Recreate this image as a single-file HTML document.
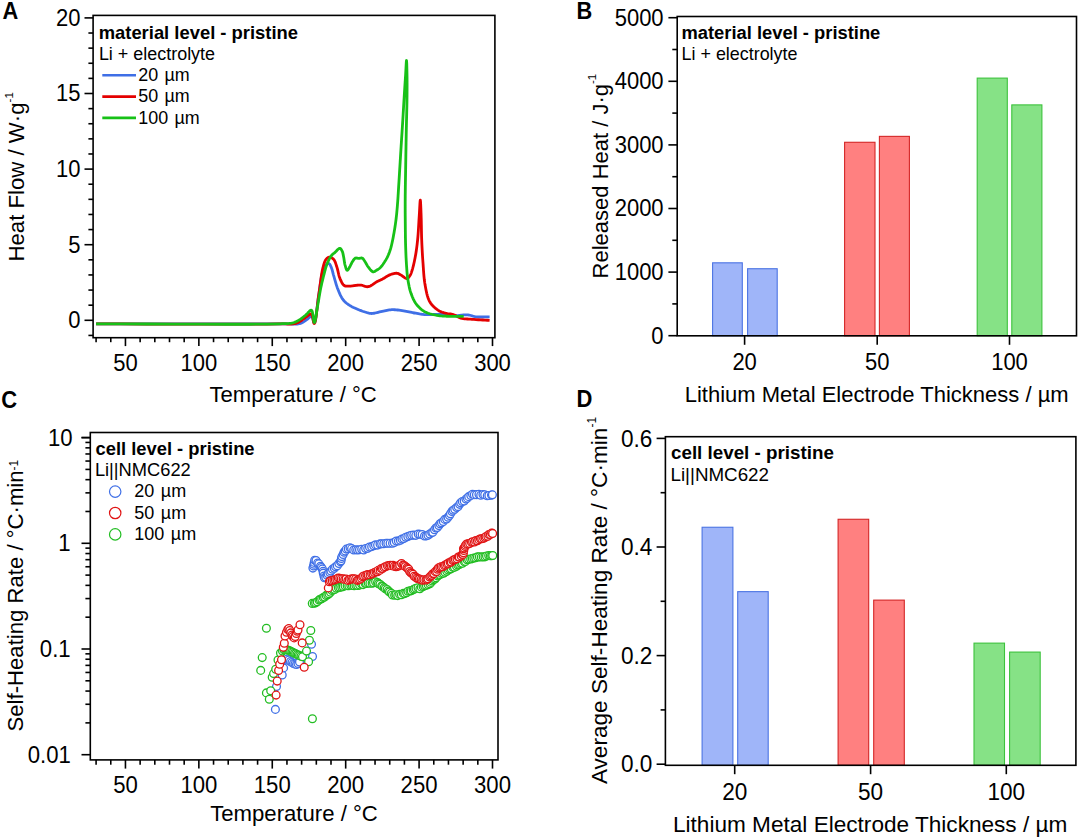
<!DOCTYPE html>
<html><head><meta charset="utf-8"><title>Figure</title>
<style>
html,body{margin:0;padding:0;background:#fff;}
svg{display:block;}
text{font-family:"Liberation Sans",sans-serif;fill:#000;}
</style></head>
<body>
<svg width="1080" height="839" viewBox="0 0 1080 839">
<rect width="1080" height="839" fill="#fff"/>
<path d="M96.10,323.95 L122.21,323.94 L150.97,323.92 L180.80,323.89 L210.10,323.86 L237.27,323.84 L260.72,323.85 L278.86,323.88 L290.10,323.95 L291.26,323.97 L292.21,324.01 L292.99,324.06 L293.67,324.10 L294.27,324.13 L294.84,324.15 L295.44,324.14 L296.10,324.10 L296.74,324.05 L297.36,323.99 L297.97,323.92 L298.58,323.84 L299.18,323.73 L299.78,323.59 L300.39,323.42 L301.00,323.20 L301.73,322.88 L302.46,322.49 L303.20,322.05 L303.93,321.57 L304.67,321.07 L305.39,320.56 L306.10,320.07 L306.80,319.60 L307.44,319.13 L308.09,318.57 L308.74,317.97 L309.37,317.40 L309.99,316.89 L310.57,316.51 L311.11,316.29 L311.60,316.30 L312.07,316.70 L312.48,317.52 L312.83,318.59 L313.14,319.79 L313.43,320.96 L313.71,321.97 L314.00,322.66 L314.30,322.90 L314.90,322.05 L315.46,319.85 L316.00,316.62 L316.52,312.68 L317.03,308.33 L317.54,303.89 L318.06,299.67 L318.60,296.00 L319.11,292.71 L319.59,289.29 L320.07,285.82 L320.55,282.39 L321.06,279.10 L321.61,276.04 L322.22,273.31 L322.90,271.00 L323.30,269.91 L323.72,268.88 L324.15,267.93 L324.60,267.05 L325.06,266.26 L325.53,265.57 L326.01,264.98 L326.50,264.50 L326.80,264.26 L327.12,264.04 L327.44,263.85 L327.77,263.70 L328.09,263.59 L328.41,263.53 L328.71,263.53 L329.00,263.60 L329.37,263.83 L329.72,264.21 L330.05,264.71 L330.36,265.30 L330.66,265.96 L330.95,266.65 L331.23,267.34 L331.50,268.00 L331.81,268.81 L332.08,269.64 L332.33,270.52 L332.56,271.42 L332.80,272.36 L333.04,273.34 L333.30,274.35 L333.60,275.40 L334.05,276.95 L334.52,278.62 L335.02,280.39 L335.54,282.22 L336.09,284.06 L336.67,285.88 L337.27,287.64 L337.90,289.30 L338.49,290.76 L339.09,292.21 L339.71,293.65 L340.36,295.05 L341.03,296.41 L341.74,297.69 L342.50,298.90 L343.30,300.00 L344.01,300.84 L344.74,301.61 L345.50,302.32 L346.29,302.99 L347.10,303.62 L347.94,304.22 L348.81,304.81 L349.70,305.40 L350.72,306.03 L351.81,306.63 L352.95,307.21 L354.10,307.76 L355.27,308.28 L356.42,308.78 L357.54,309.25 L358.60,309.70 L359.44,310.05 L360.26,310.37 L361.06,310.68 L361.85,310.97 L362.63,311.25 L363.41,311.51 L364.20,311.76 L365.00,312.00 L365.79,312.24 L366.58,312.50 L367.35,312.74 L368.14,312.97 L368.94,313.18 L369.76,313.34 L370.61,313.45 L371.50,313.50 L372.71,313.44 L374.00,313.26 L375.34,312.99 L376.72,312.66 L378.11,312.29 L379.50,311.92 L380.87,311.58 L382.20,311.30 L383.42,311.06 L384.61,310.81 L385.79,310.56 L386.97,310.32 L388.15,310.10 L389.34,309.92 L390.55,309.78 L391.80,309.70 L393.22,309.69 L394.68,309.74 L396.16,309.84 L397.66,309.99 L399.16,310.17 L400.66,310.37 L402.15,310.58 L403.60,310.80 L404.98,311.03 L406.34,311.29 L407.69,311.57 L409.04,311.87 L410.38,312.17 L411.71,312.47 L413.05,312.75 L414.40,313.00 L415.72,313.24 L417.01,313.48 L418.30,313.71 L419.59,313.94 L420.90,314.14 L422.24,314.33 L423.64,314.48 L425.10,314.60 L427.05,314.67 L429.12,314.66 L431.27,314.60 L433.48,314.50 L435.70,314.40 L437.92,314.31 L440.10,314.27 L442.20,314.30 L444.15,314.41 L446.13,314.58 L448.12,314.80 L450.08,315.03 L451.98,315.25 L453.79,315.43 L455.47,315.56 L457.00,315.60 L457.88,315.57 L458.70,315.52 L459.47,315.43 L460.20,315.34 L460.90,315.24 L461.60,315.14 L462.29,315.06 L463.00,315.00 L463.65,314.96 L464.28,314.91 L464.89,314.87 L465.50,314.84 L466.12,314.82 L466.76,314.82 L467.41,314.84 L468.10,314.90 L469.02,315.04 L469.97,315.25 L470.95,315.52 L471.95,315.81 L472.99,316.11 L474.06,316.38 L475.16,316.62 L476.30,316.80 L477.80,316.93 L479.39,317.00 L481.04,317.02 L482.74,317.01 L484.47,316.97 L486.20,316.93 L487.91,316.90 L489.60,316.90" fill="none" stroke="#3f6fe6" stroke-width="2.8" stroke-linejoin="round" stroke-linecap="butt"/>
<path d="M96.10,323.95 L120.45,323.97 L146.76,324.03 L173.85,324.10 L200.54,324.16 L225.68,324.20 L248.08,324.19 L266.58,324.11 L280.00,323.95 L282.88,323.93 L285.37,323.97 L287.54,324.03 L289.46,324.08 L291.20,324.07 L292.84,323.96 L294.45,323.72 L296.10,323.30 L297.49,322.79 L298.81,322.13 L300.08,321.38 L301.29,320.56 L302.46,319.71 L303.58,318.88 L304.66,318.10 L305.70,317.40 L306.47,316.87 L307.22,316.26 L307.95,315.63 L308.66,315.03 L309.33,314.52 L309.96,314.14 L310.56,313.95 L311.10,314.00 L311.70,314.59 L312.19,315.77 L312.61,317.33 L312.98,319.06 L313.31,320.76 L313.63,322.22 L313.95,323.24 L314.30,323.60 L314.90,322.75 L315.47,320.50 L316.01,317.19 L316.53,313.13 L317.04,308.64 L317.56,304.04 L318.07,299.65 L318.60,295.80 L319.13,292.20 L319.64,288.45 L320.14,284.62 L320.65,280.83 L321.17,277.17 L321.71,273.73 L322.28,270.61 L322.90,267.90 L323.26,266.53 L323.61,265.22 L323.97,264.00 L324.33,262.86 L324.72,261.82 L325.14,260.87 L325.59,260.03 L326.10,259.30 L326.45,258.88 L326.82,258.50 L327.21,258.15 L327.61,257.85 L328.02,257.59 L328.44,257.40 L328.86,257.26 L329.30,257.20 L329.81,257.22 L330.36,257.32 L330.93,257.50 L331.50,257.76 L332.07,258.07 L332.62,258.44 L333.13,258.85 L333.60,259.30 L334.13,259.97 L334.60,260.75 L335.02,261.63 L335.40,262.59 L335.76,263.61 L336.10,264.66 L336.44,265.73 L336.80,266.80 L337.22,268.16 L337.60,269.63 L337.96,271.17 L338.31,272.74 L338.67,274.31 L339.06,275.83 L339.50,277.28 L340.00,278.60 L340.45,279.64 L340.91,280.68 L341.39,281.71 L341.89,282.69 L342.43,283.60 L343.01,284.40 L343.63,285.08 L344.30,285.60 L344.89,285.89 L345.53,286.08 L346.20,286.18 L346.90,286.21 L347.60,286.20 L348.31,286.16 L349.02,286.12 L349.70,286.10 L350.36,286.08 L351.02,286.02 L351.68,285.95 L352.34,285.86 L353.00,285.76 L353.66,285.66 L354.33,285.57 L355.00,285.50 L355.70,285.43 L356.39,285.35 L357.09,285.26 L357.79,285.18 L358.50,285.12 L359.22,285.08 L359.95,285.07 L360.70,285.10 L361.59,285.23 L362.51,285.47 L363.44,285.78 L364.39,286.11 L365.34,286.41 L366.30,286.64 L367.25,286.75 L368.20,286.70 L369.28,286.42 L370.37,285.95 L371.47,285.33 L372.56,284.62 L373.65,283.86 L374.72,283.10 L375.78,282.40 L376.80,281.80 L377.66,281.36 L378.50,280.94 L379.33,280.54 L380.15,280.16 L380.96,279.78 L381.75,279.40 L382.53,279.01 L383.30,278.60 L384.00,278.20 L384.68,277.78 L385.35,277.35 L386.01,276.92 L386.66,276.50 L387.31,276.10 L387.95,275.73 L388.60,275.40 L389.16,275.14 L389.71,274.90 L390.26,274.67 L390.81,274.46 L391.36,274.27 L391.90,274.10 L392.45,273.94 L393.00,273.80 L393.53,273.67 L394.05,273.55 L394.58,273.43 L395.11,273.34 L395.64,273.27 L396.16,273.23 L396.68,273.24 L397.20,273.30 L397.74,273.43 L398.28,273.62 L398.81,273.86 L399.34,274.14 L399.87,274.45 L400.40,274.77 L400.95,275.09 L401.50,275.40 L402.16,275.81 L402.86,276.32 L403.57,276.87 L404.28,277.42 L404.99,277.91 L405.67,278.31 L406.31,278.55 L406.90,278.60 L407.36,278.47 L407.79,278.23 L408.21,277.89 L408.60,277.47 L408.98,277.00 L409.33,276.50 L409.67,276.00 L410.00,275.50 L410.35,274.93 L410.66,274.33 L410.94,273.71 L411.20,273.05 L411.45,272.35 L411.69,271.61 L411.94,270.83 L412.20,270.00 L412.62,268.58 L413.04,267.01 L413.47,265.32 L413.89,263.53 L414.29,261.68 L414.68,259.81 L415.05,257.94 L415.40,256.10 L415.74,254.17 L416.06,252.25 L416.35,250.32 L416.62,248.36 L416.88,246.36 L417.13,244.31 L417.37,242.19 L417.60,240.00 L417.87,237.10 L418.12,233.99 L418.34,230.74 L418.55,227.44 L418.75,224.14 L418.93,220.92 L419.12,217.85 L419.30,215.00 L419.44,212.76 L419.57,210.33 L419.70,207.87 L419.83,205.51 L419.95,203.41 L420.07,201.73 L420.19,200.61 L420.30,200.20 L420.41,200.61 L420.52,201.73 L420.63,203.41 L420.73,205.51 L420.83,207.87 L420.93,210.33 L421.02,212.76 L421.10,215.00 L421.19,217.83 L421.27,220.84 L421.33,223.98 L421.39,227.21 L421.44,230.48 L421.51,233.73 L421.59,236.92 L421.70,240.00 L421.81,242.76 L421.94,245.47 L422.07,248.14 L422.21,250.79 L422.36,253.44 L422.52,256.10 L422.70,258.78 L422.90,261.50 L423.11,264.43 L423.31,267.44 L423.51,270.49 L423.74,273.54 L424.00,276.56 L424.30,279.52 L424.67,282.38 L425.10,285.10 L425.51,287.32 L425.93,289.53 L426.39,291.70 L426.88,293.81 L427.42,295.84 L428.01,297.74 L428.67,299.51 L429.40,301.10 L429.97,302.12 L430.58,303.07 L431.22,303.94 L431.88,304.76 L432.57,305.52 L433.28,306.24 L433.99,306.93 L434.70,307.60 L435.33,308.16 L435.97,308.70 L436.61,309.20 L437.27,309.67 L437.93,310.12 L438.61,310.54 L439.30,310.93 L440.00,311.30 L440.70,311.63 L441.41,311.93 L442.13,312.20 L442.86,312.45 L443.60,312.68 L444.35,312.89 L445.12,313.10 L445.90,313.30 L446.78,313.49 L447.69,313.64 L448.62,313.77 L449.56,313.88 L450.50,314.01 L451.45,314.16 L452.38,314.35 L453.30,314.60 L454.23,314.95 L455.13,315.37 L456.01,315.85 L456.90,316.36 L457.79,316.86 L458.72,317.33 L459.68,317.76 L460.70,318.10 L461.95,318.40 L463.25,318.63 L464.59,318.79 L465.97,318.91 L467.39,319.01 L468.85,319.09 L470.36,319.19 L471.90,319.30 L473.92,319.46 L476.04,319.61 L478.24,319.75 L480.50,319.88 L482.78,320.01 L485.08,320.14 L487.36,320.27 L489.60,320.40" fill="none" stroke="#e40000" stroke-width="2.8" stroke-linejoin="round" stroke-linecap="butt"/>
<path d="M96.10,323.90 L120.55,323.93 L147.09,324.01 L174.46,324.12 L201.41,324.21 L226.70,324.26 L249.06,324.23 L267.24,324.09 L280.00,323.80 L282.37,323.72 L284.40,323.66 L286.15,323.60 L287.69,323.54 L289.08,323.44 L290.37,323.30 L291.62,323.09 L292.90,322.80 L293.83,322.54 L294.69,322.24 L295.51,321.91 L296.29,321.56 L297.04,321.18 L297.79,320.78 L298.54,320.35 L299.30,319.90 L300.12,319.39 L300.94,318.83 L301.76,318.24 L302.56,317.63 L303.36,317.00 L304.15,316.36 L304.93,315.72 L305.70,315.10 L306.46,314.41 L307.23,313.60 L308.01,312.73 L308.77,311.88 L309.51,311.13 L310.20,310.55 L310.84,310.21 L311.40,310.20 L312.01,310.90 L312.49,312.39 L312.87,314.39 L313.17,316.63 L313.44,318.84 L313.70,320.75 L313.98,322.10 L314.30,322.60 L314.71,322.13 L315.11,320.86 L315.52,318.96 L315.92,316.62 L316.32,314.02 L316.71,311.35 L317.11,308.78 L317.50,306.50 L317.91,304.26 L318.30,301.97 L318.69,299.65 L319.08,297.32 L319.47,294.99 L319.86,292.70 L320.27,290.46 L320.70,288.30 L321.09,286.44 L321.49,284.62 L321.89,282.82 L322.30,281.06 L322.72,279.32 L323.14,277.62 L323.57,275.94 L324.00,274.30 L324.38,272.88 L324.74,271.47 L325.11,270.09 L325.48,268.74 L325.87,267.41 L326.28,266.11 L326.72,264.84 L327.20,263.60 L327.67,262.48 L328.16,261.37 L328.68,260.26 L329.22,259.18 L329.78,258.15 L330.34,257.18 L330.92,256.29 L331.50,255.50 L331.92,255.01 L332.34,254.58 L332.76,254.19 L333.19,253.84 L333.63,253.49 L334.08,253.15 L334.53,252.79 L335.00,252.40 L335.58,251.85 L336.19,251.21 L336.83,250.51 L337.47,249.83 L338.11,249.22 L338.72,248.72 L339.29,248.39 L339.80,248.30 L340.15,248.39 L340.48,248.59 L340.79,248.88 L341.08,249.25 L341.36,249.66 L341.62,250.10 L341.87,250.56 L342.10,251.00 L342.37,251.59 L342.60,252.22 L342.80,252.91 L342.97,253.63 L343.13,254.37 L343.28,255.14 L343.44,255.92 L343.60,256.70 L343.79,257.65 L343.95,258.66 L344.10,259.71 L344.24,260.77 L344.40,261.83 L344.57,262.86 L344.77,263.86 L345.00,264.80 L345.22,265.62 L345.46,266.51 L345.72,267.41 L345.99,268.28 L346.27,269.05 L346.57,269.68 L346.88,270.12 L347.20,270.30 L347.50,270.23 L347.81,269.97 L348.14,269.56 L348.47,269.04 L348.81,268.46 L349.15,267.84 L349.48,267.25 L349.80,266.70 L350.16,266.08 L350.50,265.42 L350.84,264.73 L351.18,264.03 L351.51,263.33 L351.86,262.64 L352.22,262.00 L352.60,261.40 L352.93,260.91 L353.27,260.40 L353.61,259.91 L353.96,259.43 L354.32,259.00 L354.70,258.62 L355.09,258.32 L355.50,258.10 L355.88,258.00 L356.27,257.98 L356.68,258.02 L357.10,258.10 L357.53,258.20 L357.95,258.30 L358.38,258.37 L358.80,258.40 L359.23,258.37 L359.67,258.30 L360.12,258.20 L360.56,258.10 L361.00,258.02 L361.43,257.98 L361.83,258.00 L362.20,258.10 L362.56,258.30 L362.88,258.56 L363.18,258.89 L363.46,259.26 L363.73,259.67 L364.01,260.11 L364.29,260.55 L364.60,261.00 L365.04,261.66 L365.48,262.41 L365.93,263.20 L366.39,264.03 L366.87,264.87 L367.36,265.69 L367.87,266.47 L368.40,267.20 L368.94,267.89 L369.50,268.62 L370.08,269.35 L370.68,270.05 L371.29,270.69 L371.90,271.21 L372.50,271.60 L373.10,271.80 L373.58,271.81 L374.05,271.71 L374.54,271.51 L375.02,271.25 L375.49,270.94 L375.97,270.61 L376.44,270.29 L376.90,270.00 L377.36,269.73 L377.82,269.46 L378.26,269.19 L378.70,268.90 L379.14,268.59 L379.59,268.24 L380.04,267.85 L380.50,267.40 L381.26,266.57 L382.06,265.59 L382.88,264.50 L383.70,263.32 L384.51,262.10 L385.30,260.85 L386.03,259.60 L386.70,258.40 L387.28,257.27 L387.83,256.15 L388.33,255.02 L388.80,253.88 L389.25,252.71 L389.68,251.52 L390.09,250.28 L390.50,249.00 L390.97,247.41 L391.40,245.75 L391.81,244.04 L392.19,242.29 L392.56,240.50 L392.92,238.70 L393.26,236.90 L393.60,235.10 L393.95,233.22 L394.28,231.31 L394.60,229.39 L394.91,227.46 L395.20,225.52 L395.48,223.58 L395.75,221.64 L396.00,219.70 L396.23,217.79 L396.44,215.91 L396.64,214.03 L396.82,212.15 L396.99,210.25 L397.16,208.30 L397.33,206.29 L397.50,204.20 L397.70,201.55 L397.90,198.81 L398.08,195.99 L398.26,193.10 L398.44,190.15 L398.62,187.15 L398.81,184.09 L399.00,181.00 L399.23,177.34 L399.46,173.55 L399.70,169.68 L399.94,165.75 L400.18,161.78 L400.42,157.82 L400.66,153.88 L400.90,150.00 L401.14,146.21 L401.38,142.40 L401.62,138.59 L401.86,134.80 L402.11,131.03 L402.34,127.30 L402.58,123.62 L402.80,120.00 L403.00,116.75 L403.19,113.52 L403.38,110.34 L403.57,107.18 L403.75,104.07 L403.93,101.00 L404.12,97.98 L404.30,95.00 L404.47,92.37 L404.63,89.77 L404.80,87.20 L404.97,84.66 L405.13,82.17 L405.29,79.72 L405.45,77.33 L405.60,75.00 L405.72,72.88 L405.85,70.53 L405.97,68.12 L406.09,65.79 L406.20,63.71 L406.31,62.03 L406.41,60.91 L406.50,60.50 L406.58,60.90 L406.66,62.01 L406.74,63.67 L406.80,65.74 L406.86,68.05 L406.92,70.47 L406.96,72.83 L407.00,75.00 L407.04,77.57 L407.06,80.22 L407.07,82.97 L407.08,85.78 L407.07,88.67 L407.05,91.63 L407.03,94.64 L407.00,97.70 L406.95,101.46 L406.88,105.35 L406.79,109.34 L406.69,113.41 L406.59,117.54 L406.48,121.70 L406.39,125.86 L406.30,130.00 L406.22,134.31 L406.14,138.65 L406.06,143.02 L405.99,147.41 L405.91,151.81 L405.84,156.22 L405.77,160.62 L405.70,165.00 L405.63,169.42 L405.55,173.89 L405.48,178.38 L405.40,182.87 L405.33,187.31 L405.28,191.66 L405.23,195.91 L405.20,200.00 L405.19,203.34 L405.19,206.61 L405.19,209.80 L405.20,212.94 L405.22,216.01 L405.25,219.04 L405.27,222.04 L405.30,225.00 L405.32,227.61 L405.35,230.16 L405.37,232.66 L405.40,235.14 L405.43,237.60 L405.48,240.05 L405.53,242.52 L405.60,245.00 L405.68,247.52 L405.76,250.07 L405.86,252.64 L405.96,255.19 L406.08,257.73 L406.21,260.22 L406.35,262.65 L406.50,265.00 L406.63,266.95 L406.77,268.85 L406.90,270.70 L407.05,272.53 L407.21,274.33 L407.40,276.12 L407.63,277.91 L407.90,279.70 L408.19,281.48 L408.51,283.27 L408.85,285.05 L409.21,286.82 L409.62,288.58 L410.06,290.30 L410.55,291.97 L411.10,293.60 L411.64,295.06 L412.20,296.51 L412.80,297.93 L413.43,299.31 L414.12,300.66 L414.85,301.96 L415.64,303.21 L416.50,304.40 L417.39,305.51 L418.34,306.58 L419.34,307.60 L420.38,308.58 L421.48,309.51 L422.64,310.37 L423.84,311.17 L425.10,311.90 L426.59,312.61 L428.19,313.23 L429.87,313.77 L431.61,314.24 L433.37,314.65 L435.13,315.00 L436.85,315.32 L438.50,315.60 L439.92,315.81 L441.30,315.96 L442.66,316.07 L444.02,316.15 L445.38,316.19 L446.75,316.23 L448.15,316.26 L449.60,316.30 L451.28,316.34 L453.01,316.36 L454.76,316.36 L456.54,316.35 L458.34,316.34 L460.14,316.32 L461.93,316.31 L463.70,316.30" fill="none" stroke="#17c117" stroke-width="2.8" stroke-linejoin="round" stroke-linecap="butt"/>
<rect x="93.10" y="15.40" width="401.80" height="322.30" fill="none" stroke="#000" stroke-width="1.6"/>
<line x1="88.40" y1="335.42" x2="93.10" y2="335.42" stroke="#000" stroke-width="1.6"/>
<line x1="84.50" y1="320.30" x2="93.10" y2="320.30" stroke="#000" stroke-width="1.6"/>
<text transform="translate(80.40,328.20) scale(1,1.07)" font-size="22.0" text-anchor="end" font-weight="normal" >0</text>
<line x1="88.40" y1="305.18" x2="93.10" y2="305.18" stroke="#000" stroke-width="1.6"/>
<line x1="88.40" y1="290.06" x2="93.10" y2="290.06" stroke="#000" stroke-width="1.6"/>
<line x1="88.40" y1="274.94" x2="93.10" y2="274.94" stroke="#000" stroke-width="1.6"/>
<line x1="88.40" y1="259.82" x2="93.10" y2="259.82" stroke="#000" stroke-width="1.6"/>
<line x1="84.50" y1="244.70" x2="93.10" y2="244.70" stroke="#000" stroke-width="1.6"/>
<text transform="translate(80.40,252.60) scale(1,1.07)" font-size="22.0" text-anchor="end" font-weight="normal" >5</text>
<line x1="88.40" y1="229.58" x2="93.10" y2="229.58" stroke="#000" stroke-width="1.6"/>
<line x1="88.40" y1="214.46" x2="93.10" y2="214.46" stroke="#000" stroke-width="1.6"/>
<line x1="88.40" y1="199.34" x2="93.10" y2="199.34" stroke="#000" stroke-width="1.6"/>
<line x1="88.40" y1="184.22" x2="93.10" y2="184.22" stroke="#000" stroke-width="1.6"/>
<line x1="84.50" y1="169.10" x2="93.10" y2="169.10" stroke="#000" stroke-width="1.6"/>
<text transform="translate(80.40,177.00) scale(1,1.07)" font-size="22.0" text-anchor="end" font-weight="normal" >10</text>
<line x1="88.40" y1="153.98" x2="93.10" y2="153.98" stroke="#000" stroke-width="1.6"/>
<line x1="88.40" y1="138.86" x2="93.10" y2="138.86" stroke="#000" stroke-width="1.6"/>
<line x1="88.40" y1="123.74" x2="93.10" y2="123.74" stroke="#000" stroke-width="1.6"/>
<line x1="88.40" y1="108.62" x2="93.10" y2="108.62" stroke="#000" stroke-width="1.6"/>
<line x1="84.50" y1="93.50" x2="93.10" y2="93.50" stroke="#000" stroke-width="1.6"/>
<text transform="translate(80.40,101.40) scale(1,1.07)" font-size="22.0" text-anchor="end" font-weight="normal" >15</text>
<line x1="88.40" y1="78.38" x2="93.10" y2="78.38" stroke="#000" stroke-width="1.6"/>
<line x1="88.40" y1="63.26" x2="93.10" y2="63.26" stroke="#000" stroke-width="1.6"/>
<line x1="88.40" y1="48.14" x2="93.10" y2="48.14" stroke="#000" stroke-width="1.6"/>
<line x1="88.40" y1="33.02" x2="93.10" y2="33.02" stroke="#000" stroke-width="1.6"/>
<line x1="84.50" y1="17.90" x2="93.10" y2="17.90" stroke="#000" stroke-width="1.6"/>
<text transform="translate(80.40,25.80) scale(1,1.07)" font-size="22.0" text-anchor="end" font-weight="normal" >20</text>
<line x1="96.09" y1="337.70" x2="96.09" y2="342.20" stroke="#000" stroke-width="1.6"/>
<line x1="110.77" y1="337.70" x2="110.77" y2="342.20" stroke="#000" stroke-width="1.6"/>
<line x1="125.45" y1="337.70" x2="125.45" y2="346.10" stroke="#000" stroke-width="1.6"/>
<text transform="translate(125.45,370.70) scale(1,1.07)" font-size="22.0" text-anchor="middle" font-weight="normal" >50</text>
<line x1="140.13" y1="337.70" x2="140.13" y2="342.20" stroke="#000" stroke-width="1.6"/>
<line x1="154.81" y1="337.70" x2="154.81" y2="342.20" stroke="#000" stroke-width="1.6"/>
<line x1="169.50" y1="337.70" x2="169.50" y2="342.20" stroke="#000" stroke-width="1.6"/>
<line x1="184.18" y1="337.70" x2="184.18" y2="342.20" stroke="#000" stroke-width="1.6"/>
<line x1="198.86" y1="337.70" x2="198.86" y2="346.10" stroke="#000" stroke-width="1.6"/>
<text transform="translate(198.86,370.70) scale(1,1.07)" font-size="22.0" text-anchor="middle" font-weight="normal" >100</text>
<line x1="213.54" y1="337.70" x2="213.54" y2="342.20" stroke="#000" stroke-width="1.6"/>
<line x1="228.22" y1="337.70" x2="228.22" y2="342.20" stroke="#000" stroke-width="1.6"/>
<line x1="242.91" y1="337.70" x2="242.91" y2="342.20" stroke="#000" stroke-width="1.6"/>
<line x1="257.59" y1="337.70" x2="257.59" y2="342.20" stroke="#000" stroke-width="1.6"/>
<line x1="272.27" y1="337.70" x2="272.27" y2="346.10" stroke="#000" stroke-width="1.6"/>
<text transform="translate(272.27,370.70) scale(1,1.07)" font-size="22.0" text-anchor="middle" font-weight="normal" >150</text>
<line x1="286.95" y1="337.70" x2="286.95" y2="342.20" stroke="#000" stroke-width="1.6"/>
<line x1="301.63" y1="337.70" x2="301.63" y2="342.20" stroke="#000" stroke-width="1.6"/>
<line x1="316.32" y1="337.70" x2="316.32" y2="342.20" stroke="#000" stroke-width="1.6"/>
<line x1="331.00" y1="337.70" x2="331.00" y2="342.20" stroke="#000" stroke-width="1.6"/>
<line x1="345.68" y1="337.70" x2="345.68" y2="346.10" stroke="#000" stroke-width="1.6"/>
<text transform="translate(345.68,370.70) scale(1,1.07)" font-size="22.0" text-anchor="middle" font-weight="normal" >200</text>
<line x1="360.36" y1="337.70" x2="360.36" y2="342.20" stroke="#000" stroke-width="1.6"/>
<line x1="375.04" y1="337.70" x2="375.04" y2="342.20" stroke="#000" stroke-width="1.6"/>
<line x1="389.73" y1="337.70" x2="389.73" y2="342.20" stroke="#000" stroke-width="1.6"/>
<line x1="404.41" y1="337.70" x2="404.41" y2="342.20" stroke="#000" stroke-width="1.6"/>
<line x1="419.09" y1="337.70" x2="419.09" y2="346.10" stroke="#000" stroke-width="1.6"/>
<text transform="translate(419.09,370.70) scale(1,1.07)" font-size="22.0" text-anchor="middle" font-weight="normal" >250</text>
<line x1="433.77" y1="337.70" x2="433.77" y2="342.20" stroke="#000" stroke-width="1.6"/>
<line x1="448.45" y1="337.70" x2="448.45" y2="342.20" stroke="#000" stroke-width="1.6"/>
<line x1="463.14" y1="337.70" x2="463.14" y2="342.20" stroke="#000" stroke-width="1.6"/>
<line x1="477.82" y1="337.70" x2="477.82" y2="342.20" stroke="#000" stroke-width="1.6"/>
<line x1="492.50" y1="337.70" x2="492.50" y2="346.10" stroke="#000" stroke-width="1.6"/>
<text transform="translate(492.50,370.70) scale(1,1.07)" font-size="22.0" text-anchor="middle" font-weight="normal" >300</text>
<text x="209.50" y="401.70" font-size="22.1" text-anchor="start" font-weight="normal" >Temperature / °C</text>
<text transform="translate(24.0,261.5) rotate(-90)" font-size="22.2">Heat Flow / W·g<tspan font-size="11.5" dy="-10.8">-1</tspan></text>
<text x="98.70" y="38.90" font-size="18.4" text-anchor="start" font-weight="bold" >material level - pristine</text>
<text x="98.90" y="59.80" font-size="17.95" text-anchor="start" font-weight="normal" >Li + electrolyte</text>
<line x1="102.3" y1="75.30" x2="136" y2="75.30" stroke="#3f6fe6" stroke-width="2.6"/>
<text x="138.30" y="81.20" font-size="17.9" text-anchor="start" font-weight="normal" >20<tspan dx="1.3"> µm</tspan></text>
<line x1="102.3" y1="96.60" x2="136" y2="96.60" stroke="#e40000" stroke-width="2.6"/>
<text x="138.30" y="102.45" font-size="17.9" text-anchor="start" font-weight="normal" >50<tspan dx="1.3"> µm</tspan></text>
<line x1="102.3" y1="117.90" x2="136" y2="117.90" stroke="#17c117" stroke-width="2.6"/>
<text x="138.30" y="123.70" font-size="17.9" text-anchor="start" font-weight="normal" >100<tspan dx="1.3"> µm</tspan></text>
<text transform="translate(2.40,18.60) scale(1,1.07)" font-size="21.8" text-anchor="start" font-weight="bold" >A</text>
<rect x="712.60" y="262.81" width="29.70" height="72.99" fill="#9fb5f9" stroke="#4b73e3" stroke-width="1.1"/>
<rect x="747.60" y="268.72" width="29.60" height="67.08" fill="#9fb5f9" stroke="#4b73e3" stroke-width="1.1"/>
<rect x="844.60" y="142.28" width="30.40" height="193.52" fill="#ff8080" stroke="#d42626" stroke-width="1.1"/>
<rect x="879.40" y="136.37" width="30.00" height="199.43" fill="#ff8080" stroke="#d42626" stroke-width="1.1"/>
<rect x="977.20" y="78.11" width="30.10" height="257.69" fill="#86e286" stroke="#3cc23c" stroke-width="1.1"/>
<rect x="1011.80" y="104.89" width="30.10" height="230.91" fill="#86e286" stroke="#3cc23c" stroke-width="1.1"/>
<rect x="677.20" y="16.50" width="399.30" height="319.30" fill="none" stroke="#000" stroke-width="1.6"/>
<line x1="668.40" y1="335.70" x2="677.20" y2="335.70" stroke="#000" stroke-width="1.6"/>
<text transform="translate(663.60,343.60) scale(1,1.07)" font-size="22.0" text-anchor="end" font-weight="normal" >0</text>
<line x1="672.30" y1="303.90" x2="677.20" y2="303.90" stroke="#000" stroke-width="1.6"/>
<line x1="668.40" y1="272.10" x2="677.20" y2="272.10" stroke="#000" stroke-width="1.6"/>
<text transform="translate(663.60,280.00) scale(1,1.07)" font-size="22.0" text-anchor="end" font-weight="normal" >1000</text>
<line x1="672.30" y1="240.30" x2="677.20" y2="240.30" stroke="#000" stroke-width="1.6"/>
<line x1="668.40" y1="208.50" x2="677.20" y2="208.50" stroke="#000" stroke-width="1.6"/>
<text transform="translate(663.60,216.40) scale(1,1.07)" font-size="22.0" text-anchor="end" font-weight="normal" >2000</text>
<line x1="672.30" y1="176.70" x2="677.20" y2="176.70" stroke="#000" stroke-width="1.6"/>
<line x1="668.40" y1="144.90" x2="677.20" y2="144.90" stroke="#000" stroke-width="1.6"/>
<text transform="translate(663.60,152.80) scale(1,1.07)" font-size="22.0" text-anchor="end" font-weight="normal" >3000</text>
<line x1="672.30" y1="113.10" x2="677.20" y2="113.10" stroke="#000" stroke-width="1.6"/>
<line x1="668.40" y1="81.30" x2="677.20" y2="81.30" stroke="#000" stroke-width="1.6"/>
<text transform="translate(663.60,89.20) scale(1,1.07)" font-size="22.0" text-anchor="end" font-weight="normal" >4000</text>
<line x1="672.30" y1="49.50" x2="677.20" y2="49.50" stroke="#000" stroke-width="1.6"/>
<line x1="668.40" y1="17.70" x2="677.20" y2="17.70" stroke="#000" stroke-width="1.6"/>
<text transform="translate(663.60,25.60) scale(1,1.07)" font-size="22.0" text-anchor="end" font-weight="normal" >5000</text>
<line x1="744.60" y1="335.80" x2="744.60" y2="344.80" stroke="#000" stroke-width="1.6"/>
<text transform="translate(744.60,369.90) scale(1,1.07)" font-size="22.0" text-anchor="middle" font-weight="normal" >20</text>
<line x1="877.20" y1="335.80" x2="877.20" y2="344.80" stroke="#000" stroke-width="1.6"/>
<text transform="translate(877.20,369.90) scale(1,1.07)" font-size="22.0" text-anchor="middle" font-weight="normal" >50</text>
<line x1="1009.50" y1="335.80" x2="1009.50" y2="344.80" stroke="#000" stroke-width="1.6"/>
<text transform="translate(1009.50,369.90) scale(1,1.07)" font-size="22.0" text-anchor="middle" font-weight="normal" >100</text>
<text x="684.70" y="401.80" font-size="22.0" text-anchor="start" font-weight="normal" >Lithium Metal Electrode Thickness / µm</text>
<text transform="translate(607.5,278.4) rotate(-90)" font-size="22.0">Released Heat / J·g<tspan font-size="11.5" dy="-11.3">-1</tspan></text>
<text x="681.50" y="38.60" font-size="18.35" text-anchor="start" font-weight="bold" >material level - pristine</text>
<text x="681.60" y="59.50" font-size="17.9" text-anchor="start" font-weight="normal" >Li + electrolyte</text>
<text transform="translate(576.50,18.70) scale(1,1.07)" font-size="21.8" text-anchor="start" font-weight="bold" >B</text>
<circle cx="275.40" cy="709.40" r="3.9" fill="#fff" stroke="#3f6fe6" stroke-width="1.3"/>
<circle cx="276.50" cy="686.50" r="3.9" fill="#fff" stroke="#3f6fe6" stroke-width="1.3"/>
<circle cx="282.20" cy="675.00" r="3.9" fill="#fff" stroke="#3f6fe6" stroke-width="1.3"/>
<circle cx="283.60" cy="667.90" r="3.9" fill="#fff" stroke="#3f6fe6" stroke-width="1.3"/>
<circle cx="286.00" cy="660.00" r="3.9" fill="#fff" stroke="#3f6fe6" stroke-width="1.3"/>
<circle cx="287.50" cy="659.00" r="3.9" fill="#fff" stroke="#3f6fe6" stroke-width="1.3"/>
<circle cx="289.00" cy="660.00" r="3.9" fill="#fff" stroke="#3f6fe6" stroke-width="1.3"/>
<circle cx="290.50" cy="661.50" r="3.9" fill="#fff" stroke="#3f6fe6" stroke-width="1.3"/>
<circle cx="292.00" cy="662.50" r="3.9" fill="#fff" stroke="#3f6fe6" stroke-width="1.3"/>
<circle cx="293.50" cy="663.50" r="3.9" fill="#fff" stroke="#3f6fe6" stroke-width="1.3"/>
<circle cx="295.00" cy="664.00" r="3.9" fill="#fff" stroke="#3f6fe6" stroke-width="1.3"/>
<circle cx="296.50" cy="664.50" r="3.9" fill="#fff" stroke="#3f6fe6" stroke-width="1.3"/>
<circle cx="298.00" cy="663.50" r="3.9" fill="#fff" stroke="#3f6fe6" stroke-width="1.3"/>
<circle cx="299.50" cy="662.00" r="3.9" fill="#fff" stroke="#3f6fe6" stroke-width="1.3"/>
<circle cx="311.50" cy="644.30" r="3.9" fill="#fff" stroke="#3f6fe6" stroke-width="1.3"/>
<circle cx="312.50" cy="656.50" r="3.9" fill="#fff" stroke="#3f6fe6" stroke-width="1.3"/>
<circle cx="312.89" cy="568.08" r="3.9" fill="#fff" stroke="#3f6fe6" stroke-width="1.3"/>
<circle cx="313.59" cy="565.95" r="3.9" fill="#fff" stroke="#3f6fe6" stroke-width="1.3"/>
<circle cx="314.02" cy="564.26" r="3.9" fill="#fff" stroke="#3f6fe6" stroke-width="1.3"/>
<circle cx="314.23" cy="562.39" r="3.9" fill="#fff" stroke="#3f6fe6" stroke-width="1.3"/>
<circle cx="314.72" cy="560.26" r="3.9" fill="#fff" stroke="#3f6fe6" stroke-width="1.3"/>
<circle cx="316.01" cy="560.57" r="3.9" fill="#fff" stroke="#3f6fe6" stroke-width="1.3"/>
<circle cx="317.68" cy="562.96" r="3.9" fill="#fff" stroke="#3f6fe6" stroke-width="1.3"/>
<circle cx="318.84" cy="563.85" r="3.9" fill="#fff" stroke="#3f6fe6" stroke-width="1.3"/>
<circle cx="320.49" cy="566.34" r="3.9" fill="#fff" stroke="#3f6fe6" stroke-width="1.3"/>
<circle cx="321.34" cy="567.58" r="3.9" fill="#fff" stroke="#3f6fe6" stroke-width="1.3"/>
<circle cx="322.42" cy="569.08" r="3.9" fill="#fff" stroke="#3f6fe6" stroke-width="1.3"/>
<circle cx="323.05" cy="571.35" r="3.9" fill="#fff" stroke="#3f6fe6" stroke-width="1.3"/>
<circle cx="323.28" cy="573.14" r="3.9" fill="#fff" stroke="#3f6fe6" stroke-width="1.3"/>
<circle cx="323.97" cy="575.99" r="3.9" fill="#fff" stroke="#3f6fe6" stroke-width="1.3"/>
<circle cx="324.48" cy="577.72" r="3.9" fill="#fff" stroke="#3f6fe6" stroke-width="1.3"/>
<circle cx="325.80" cy="577.24" r="3.9" fill="#fff" stroke="#3f6fe6" stroke-width="1.3"/>
<circle cx="327.07" cy="575.24" r="3.9" fill="#fff" stroke="#3f6fe6" stroke-width="1.3"/>
<circle cx="328.10" cy="573.78" r="3.9" fill="#fff" stroke="#3f6fe6" stroke-width="1.3"/>
<circle cx="329.81" cy="572.43" r="3.9" fill="#fff" stroke="#3f6fe6" stroke-width="1.3"/>
<circle cx="330.94" cy="571.01" r="3.9" fill="#fff" stroke="#3f6fe6" stroke-width="1.3"/>
<circle cx="332.48" cy="569.17" r="3.9" fill="#fff" stroke="#3f6fe6" stroke-width="1.3"/>
<circle cx="334.30" cy="568.30" r="3.9" fill="#fff" stroke="#3f6fe6" stroke-width="1.3"/>
<circle cx="335.58" cy="566.81" r="3.9" fill="#fff" stroke="#3f6fe6" stroke-width="1.3"/>
<circle cx="337.26" cy="565.71" r="3.9" fill="#fff" stroke="#3f6fe6" stroke-width="1.3"/>
<circle cx="338.86" cy="563.52" r="3.9" fill="#fff" stroke="#3f6fe6" stroke-width="1.3"/>
<circle cx="340.50" cy="561.83" r="3.9" fill="#fff" stroke="#3f6fe6" stroke-width="1.3"/>
<circle cx="341.06" cy="560.78" r="3.9" fill="#fff" stroke="#3f6fe6" stroke-width="1.3"/>
<circle cx="341.41" cy="558.42" r="3.9" fill="#fff" stroke="#3f6fe6" stroke-width="1.3"/>
<circle cx="341.92" cy="556.62" r="3.9" fill="#fff" stroke="#3f6fe6" stroke-width="1.3"/>
<circle cx="343.14" cy="554.56" r="3.9" fill="#fff" stroke="#3f6fe6" stroke-width="1.3"/>
<circle cx="344.04" cy="552.32" r="3.9" fill="#fff" stroke="#3f6fe6" stroke-width="1.3"/>
<circle cx="345.17" cy="550.97" r="3.9" fill="#fff" stroke="#3f6fe6" stroke-width="1.3"/>
<circle cx="346.34" cy="549.10" r="3.9" fill="#fff" stroke="#3f6fe6" stroke-width="1.3"/>
<circle cx="348.24" cy="548.69" r="3.9" fill="#fff" stroke="#3f6fe6" stroke-width="1.3"/>
<circle cx="350.01" cy="547.69" r="3.9" fill="#fff" stroke="#3f6fe6" stroke-width="1.3"/>
<circle cx="351.58" cy="548.60" r="3.9" fill="#fff" stroke="#3f6fe6" stroke-width="1.3"/>
<circle cx="353.72" cy="550.05" r="3.9" fill="#fff" stroke="#3f6fe6" stroke-width="1.3"/>
<circle cx="355.77" cy="549.70" r="3.9" fill="#fff" stroke="#3f6fe6" stroke-width="1.3"/>
<circle cx="357.60" cy="550.07" r="3.9" fill="#fff" stroke="#3f6fe6" stroke-width="1.3"/>
<circle cx="359.48" cy="549.73" r="3.9" fill="#fff" stroke="#3f6fe6" stroke-width="1.3"/>
<circle cx="361.67" cy="549.23" r="3.9" fill="#fff" stroke="#3f6fe6" stroke-width="1.3"/>
<circle cx="363.70" cy="549.93" r="3.9" fill="#fff" stroke="#3f6fe6" stroke-width="1.3"/>
<circle cx="365.67" cy="548.49" r="3.9" fill="#fff" stroke="#3f6fe6" stroke-width="1.3"/>
<circle cx="367.74" cy="548.37" r="3.9" fill="#fff" stroke="#3f6fe6" stroke-width="1.3"/>
<circle cx="369.47" cy="547.00" r="3.9" fill="#fff" stroke="#3f6fe6" stroke-width="1.3"/>
<circle cx="371.66" cy="546.65" r="3.9" fill="#fff" stroke="#3f6fe6" stroke-width="1.3"/>
<circle cx="373.74" cy="545.76" r="3.9" fill="#fff" stroke="#3f6fe6" stroke-width="1.3"/>
<circle cx="375.48" cy="544.88" r="3.9" fill="#fff" stroke="#3f6fe6" stroke-width="1.3"/>
<circle cx="377.60" cy="545.12" r="3.9" fill="#fff" stroke="#3f6fe6" stroke-width="1.3"/>
<circle cx="380.04" cy="543.91" r="3.9" fill="#fff" stroke="#3f6fe6" stroke-width="1.3"/>
<circle cx="381.64" cy="543.68" r="3.9" fill="#fff" stroke="#3f6fe6" stroke-width="1.3"/>
<circle cx="383.76" cy="543.71" r="3.9" fill="#fff" stroke="#3f6fe6" stroke-width="1.3"/>
<circle cx="386.06" cy="543.24" r="3.9" fill="#fff" stroke="#3f6fe6" stroke-width="1.3"/>
<circle cx="387.80" cy="543.23" r="3.9" fill="#fff" stroke="#3f6fe6" stroke-width="1.3"/>
<circle cx="390.11" cy="543.21" r="3.9" fill="#fff" stroke="#3f6fe6" stroke-width="1.3"/>
<circle cx="392.55" cy="543.17" r="3.9" fill="#fff" stroke="#3f6fe6" stroke-width="1.3"/>
<circle cx="394.27" cy="542.42" r="3.9" fill="#fff" stroke="#3f6fe6" stroke-width="1.3"/>
<circle cx="396.31" cy="540.96" r="3.9" fill="#fff" stroke="#3f6fe6" stroke-width="1.3"/>
<circle cx="398.40" cy="541.05" r="3.9" fill="#fff" stroke="#3f6fe6" stroke-width="1.3"/>
<circle cx="400.33" cy="540.29" r="3.9" fill="#fff" stroke="#3f6fe6" stroke-width="1.3"/>
<circle cx="401.99" cy="539.04" r="3.9" fill="#fff" stroke="#3f6fe6" stroke-width="1.3"/>
<circle cx="403.80" cy="538.61" r="3.9" fill="#fff" stroke="#3f6fe6" stroke-width="1.3"/>
<circle cx="405.75" cy="537.22" r="3.9" fill="#fff" stroke="#3f6fe6" stroke-width="1.3"/>
<circle cx="407.81" cy="536.62" r="3.9" fill="#fff" stroke="#3f6fe6" stroke-width="1.3"/>
<circle cx="409.87" cy="535.78" r="3.9" fill="#fff" stroke="#3f6fe6" stroke-width="1.3"/>
<circle cx="411.65" cy="535.24" r="3.9" fill="#fff" stroke="#3f6fe6" stroke-width="1.3"/>
<circle cx="413.78" cy="535.11" r="3.9" fill="#fff" stroke="#3f6fe6" stroke-width="1.3"/>
<circle cx="415.80" cy="535.35" r="3.9" fill="#fff" stroke="#3f6fe6" stroke-width="1.3"/>
<circle cx="418.22" cy="534.11" r="3.9" fill="#fff" stroke="#3f6fe6" stroke-width="1.3"/>
<circle cx="420.06" cy="534.30" r="3.9" fill="#fff" stroke="#3f6fe6" stroke-width="1.3"/>
<circle cx="422.17" cy="534.51" r="3.9" fill="#fff" stroke="#3f6fe6" stroke-width="1.3"/>
<circle cx="424.51" cy="536.03" r="3.9" fill="#fff" stroke="#3f6fe6" stroke-width="1.3"/>
<circle cx="426.33" cy="535.89" r="3.9" fill="#fff" stroke="#3f6fe6" stroke-width="1.3"/>
<circle cx="427.98" cy="535.21" r="3.9" fill="#fff" stroke="#3f6fe6" stroke-width="1.3"/>
<circle cx="429.75" cy="534.06" r="3.9" fill="#fff" stroke="#3f6fe6" stroke-width="1.3"/>
<circle cx="431.67" cy="532.60" r="3.9" fill="#fff" stroke="#3f6fe6" stroke-width="1.3"/>
<circle cx="432.80" cy="532.22" r="3.9" fill="#fff" stroke="#3f6fe6" stroke-width="1.3"/>
<circle cx="434.51" cy="529.70" r="3.9" fill="#fff" stroke="#3f6fe6" stroke-width="1.3"/>
<circle cx="435.90" cy="527.96" r="3.9" fill="#fff" stroke="#3f6fe6" stroke-width="1.3"/>
<circle cx="437.26" cy="527.52" r="3.9" fill="#fff" stroke="#3f6fe6" stroke-width="1.3"/>
<circle cx="438.84" cy="525.59" r="3.9" fill="#fff" stroke="#3f6fe6" stroke-width="1.3"/>
<circle cx="439.98" cy="523.74" r="3.9" fill="#fff" stroke="#3f6fe6" stroke-width="1.3"/>
<circle cx="441.50" cy="522.84" r="3.9" fill="#fff" stroke="#3f6fe6" stroke-width="1.3"/>
<circle cx="443.29" cy="521.46" r="3.9" fill="#fff" stroke="#3f6fe6" stroke-width="1.3"/>
<circle cx="444.75" cy="519.40" r="3.9" fill="#fff" stroke="#3f6fe6" stroke-width="1.3"/>
<circle cx="446.61" cy="518.92" r="3.9" fill="#fff" stroke="#3f6fe6" stroke-width="1.3"/>
<circle cx="448.06" cy="517.17" r="3.9" fill="#fff" stroke="#3f6fe6" stroke-width="1.3"/>
<circle cx="449.43" cy="515.51" r="3.9" fill="#fff" stroke="#3f6fe6" stroke-width="1.3"/>
<circle cx="450.46" cy="513.67" r="3.9" fill="#fff" stroke="#3f6fe6" stroke-width="1.3"/>
<circle cx="451.93" cy="511.51" r="3.9" fill="#fff" stroke="#3f6fe6" stroke-width="1.3"/>
<circle cx="453.12" cy="510.23" r="3.9" fill="#fff" stroke="#3f6fe6" stroke-width="1.3"/>
<circle cx="454.73" cy="509.23" r="3.9" fill="#fff" stroke="#3f6fe6" stroke-width="1.3"/>
<circle cx="456.62" cy="507.44" r="3.9" fill="#fff" stroke="#3f6fe6" stroke-width="1.3"/>
<circle cx="458.08" cy="506.60" r="3.9" fill="#fff" stroke="#3f6fe6" stroke-width="1.3"/>
<circle cx="459.57" cy="504.35" r="3.9" fill="#fff" stroke="#3f6fe6" stroke-width="1.3"/>
<circle cx="460.68" cy="502.78" r="3.9" fill="#fff" stroke="#3f6fe6" stroke-width="1.3"/>
<circle cx="462.30" cy="501.43" r="3.9" fill="#fff" stroke="#3f6fe6" stroke-width="1.3"/>
<circle cx="464.19" cy="500.95" r="3.9" fill="#fff" stroke="#3f6fe6" stroke-width="1.3"/>
<circle cx="465.95" cy="499.12" r="3.9" fill="#fff" stroke="#3f6fe6" stroke-width="1.3"/>
<circle cx="467.45" cy="498.15" r="3.9" fill="#fff" stroke="#3f6fe6" stroke-width="1.3"/>
<circle cx="468.71" cy="496.63" r="3.9" fill="#fff" stroke="#3f6fe6" stroke-width="1.3"/>
<circle cx="470.81" cy="495.43" r="3.9" fill="#fff" stroke="#3f6fe6" stroke-width="1.3"/>
<circle cx="472.53" cy="494.27" r="3.9" fill="#fff" stroke="#3f6fe6" stroke-width="1.3"/>
<circle cx="474.29" cy="494.65" r="3.9" fill="#fff" stroke="#3f6fe6" stroke-width="1.3"/>
<circle cx="476.48" cy="494.66" r="3.9" fill="#fff" stroke="#3f6fe6" stroke-width="1.3"/>
<circle cx="478.95" cy="494.35" r="3.9" fill="#fff" stroke="#3f6fe6" stroke-width="1.3"/>
<circle cx="480.70" cy="495.25" r="3.9" fill="#fff" stroke="#3f6fe6" stroke-width="1.3"/>
<circle cx="482.98" cy="494.56" r="3.9" fill="#fff" stroke="#3f6fe6" stroke-width="1.3"/>
<circle cx="484.70" cy="494.78" r="3.9" fill="#fff" stroke="#3f6fe6" stroke-width="1.3"/>
<circle cx="487.26" cy="495.74" r="3.9" fill="#fff" stroke="#3f6fe6" stroke-width="1.3"/>
<circle cx="488.89" cy="495.54" r="3.9" fill="#fff" stroke="#3f6fe6" stroke-width="1.3"/>
<circle cx="491.48" cy="495.12" r="3.9" fill="#fff" stroke="#3f6fe6" stroke-width="1.3"/>
<circle cx="492.41" cy="494.86" r="3.9" fill="#fff" stroke="#3f6fe6" stroke-width="1.3"/>
<circle cx="266.40" cy="628.20" r="3.9" fill="#fff" stroke="#22bd22" stroke-width="1.3"/>
<circle cx="262.20" cy="657.60" r="3.9" fill="#fff" stroke="#22bd22" stroke-width="1.3"/>
<circle cx="260.70" cy="670.40" r="3.9" fill="#fff" stroke="#22bd22" stroke-width="1.3"/>
<circle cx="266.40" cy="692.90" r="3.9" fill="#fff" stroke="#22bd22" stroke-width="1.3"/>
<circle cx="269.30" cy="699.30" r="3.9" fill="#fff" stroke="#22bd22" stroke-width="1.3"/>
<circle cx="270.70" cy="690.80" r="3.9" fill="#fff" stroke="#22bd22" stroke-width="1.3"/>
<circle cx="272.20" cy="677.20" r="3.9" fill="#fff" stroke="#22bd22" stroke-width="1.3"/>
<circle cx="273.60" cy="673.60" r="3.9" fill="#fff" stroke="#22bd22" stroke-width="1.3"/>
<circle cx="275.70" cy="669.30" r="3.9" fill="#fff" stroke="#22bd22" stroke-width="1.3"/>
<circle cx="278.00" cy="660.00" r="3.9" fill="#fff" stroke="#22bd22" stroke-width="1.3"/>
<circle cx="280.50" cy="653.00" r="3.9" fill="#fff" stroke="#22bd22" stroke-width="1.3"/>
<circle cx="282.50" cy="651.00" r="3.9" fill="#fff" stroke="#22bd22" stroke-width="1.3"/>
<circle cx="284.00" cy="649.80" r="3.9" fill="#fff" stroke="#22bd22" stroke-width="1.3"/>
<circle cx="285.50" cy="649.50" r="3.9" fill="#fff" stroke="#22bd22" stroke-width="1.3"/>
<circle cx="287.00" cy="649.80" r="3.9" fill="#fff" stroke="#22bd22" stroke-width="1.3"/>
<circle cx="288.30" cy="650.30" r="3.9" fill="#fff" stroke="#22bd22" stroke-width="1.3"/>
<circle cx="289.50" cy="650.80" r="3.9" fill="#fff" stroke="#22bd22" stroke-width="1.3"/>
<circle cx="290.70" cy="651.30" r="3.9" fill="#fff" stroke="#22bd22" stroke-width="1.3"/>
<circle cx="292.00" cy="652.00" r="3.9" fill="#fff" stroke="#22bd22" stroke-width="1.3"/>
<circle cx="293.20" cy="652.60" r="3.9" fill="#fff" stroke="#22bd22" stroke-width="1.3"/>
<circle cx="294.50" cy="653.20" r="3.9" fill="#fff" stroke="#22bd22" stroke-width="1.3"/>
<circle cx="295.70" cy="653.80" r="3.9" fill="#fff" stroke="#22bd22" stroke-width="1.3"/>
<circle cx="297.00" cy="654.50" r="3.9" fill="#fff" stroke="#22bd22" stroke-width="1.3"/>
<circle cx="298.30" cy="655.00" r="3.9" fill="#fff" stroke="#22bd22" stroke-width="1.3"/>
<circle cx="299.60" cy="655.50" r="3.9" fill="#fff" stroke="#22bd22" stroke-width="1.3"/>
<circle cx="301.00" cy="656.20" r="3.9" fill="#fff" stroke="#22bd22" stroke-width="1.3"/>
<circle cx="302.50" cy="656.80" r="3.9" fill="#fff" stroke="#22bd22" stroke-width="1.3"/>
<circle cx="306.50" cy="651.10" r="3.9" fill="#fff" stroke="#22bd22" stroke-width="1.3"/>
<circle cx="308.60" cy="661.70" r="3.9" fill="#fff" stroke="#22bd22" stroke-width="1.3"/>
<circle cx="309.40" cy="640.20" r="3.9" fill="#fff" stroke="#22bd22" stroke-width="1.3"/>
<circle cx="310.80" cy="630.50" r="3.9" fill="#fff" stroke="#22bd22" stroke-width="1.3"/>
<circle cx="312.40" cy="718.80" r="3.9" fill="#fff" stroke="#22bd22" stroke-width="1.3"/>
<circle cx="312.28" cy="603.42" r="3.9" fill="#fff" stroke="#22bd22" stroke-width="1.3"/>
<circle cx="314.36" cy="603.31" r="3.9" fill="#fff" stroke="#22bd22" stroke-width="1.3"/>
<circle cx="315.66" cy="602.77" r="3.9" fill="#fff" stroke="#22bd22" stroke-width="1.3"/>
<circle cx="317.18" cy="601.82" r="3.9" fill="#fff" stroke="#22bd22" stroke-width="1.3"/>
<circle cx="318.97" cy="600.12" r="3.9" fill="#fff" stroke="#22bd22" stroke-width="1.3"/>
<circle cx="320.16" cy="599.28" r="3.9" fill="#fff" stroke="#22bd22" stroke-width="1.3"/>
<circle cx="321.69" cy="598.70" r="3.9" fill="#fff" stroke="#22bd22" stroke-width="1.3"/>
<circle cx="323.24" cy="597.56" r="3.9" fill="#fff" stroke="#22bd22" stroke-width="1.3"/>
<circle cx="324.60" cy="597.07" r="3.9" fill="#fff" stroke="#22bd22" stroke-width="1.3"/>
<circle cx="326.14" cy="595.41" r="3.9" fill="#fff" stroke="#22bd22" stroke-width="1.3"/>
<circle cx="327.68" cy="594.82" r="3.9" fill="#fff" stroke="#22bd22" stroke-width="1.3"/>
<circle cx="328.99" cy="593.71" r="3.9" fill="#fff" stroke="#22bd22" stroke-width="1.3"/>
<circle cx="330.48" cy="592.17" r="3.9" fill="#fff" stroke="#22bd22" stroke-width="1.3"/>
<circle cx="331.98" cy="590.54" r="3.9" fill="#fff" stroke="#22bd22" stroke-width="1.3"/>
<circle cx="333.42" cy="589.72" r="3.9" fill="#fff" stroke="#22bd22" stroke-width="1.3"/>
<circle cx="334.64" cy="589.45" r="3.9" fill="#fff" stroke="#22bd22" stroke-width="1.3"/>
<circle cx="336.33" cy="588.25" r="3.9" fill="#fff" stroke="#22bd22" stroke-width="1.3"/>
<circle cx="338.38" cy="587.82" r="3.9" fill="#fff" stroke="#22bd22" stroke-width="1.3"/>
<circle cx="339.87" cy="587.25" r="3.9" fill="#fff" stroke="#22bd22" stroke-width="1.3"/>
<circle cx="341.73" cy="587.04" r="3.9" fill="#fff" stroke="#22bd22" stroke-width="1.3"/>
<circle cx="343.22" cy="586.42" r="3.9" fill="#fff" stroke="#22bd22" stroke-width="1.3"/>
<circle cx="345.07" cy="585.73" r="3.9" fill="#fff" stroke="#22bd22" stroke-width="1.3"/>
<circle cx="347.15" cy="585.65" r="3.9" fill="#fff" stroke="#22bd22" stroke-width="1.3"/>
<circle cx="348.81" cy="585.81" r="3.9" fill="#fff" stroke="#22bd22" stroke-width="1.3"/>
<circle cx="350.82" cy="585.43" r="3.9" fill="#fff" stroke="#22bd22" stroke-width="1.3"/>
<circle cx="352.44" cy="585.51" r="3.9" fill="#fff" stroke="#22bd22" stroke-width="1.3"/>
<circle cx="354.18" cy="585.73" r="3.9" fill="#fff" stroke="#22bd22" stroke-width="1.3"/>
<circle cx="355.92" cy="585.30" r="3.9" fill="#fff" stroke="#22bd22" stroke-width="1.3"/>
<circle cx="357.72" cy="585.49" r="3.9" fill="#fff" stroke="#22bd22" stroke-width="1.3"/>
<circle cx="359.62" cy="585.12" r="3.9" fill="#fff" stroke="#22bd22" stroke-width="1.3"/>
<circle cx="361.54" cy="584.08" r="3.9" fill="#fff" stroke="#22bd22" stroke-width="1.3"/>
<circle cx="363.09" cy="584.61" r="3.9" fill="#fff" stroke="#22bd22" stroke-width="1.3"/>
<circle cx="365.04" cy="583.36" r="3.9" fill="#fff" stroke="#22bd22" stroke-width="1.3"/>
<circle cx="366.39" cy="583.47" r="3.9" fill="#fff" stroke="#22bd22" stroke-width="1.3"/>
<circle cx="368.14" cy="582.97" r="3.9" fill="#fff" stroke="#22bd22" stroke-width="1.3"/>
<circle cx="369.92" cy="583.23" r="3.9" fill="#fff" stroke="#22bd22" stroke-width="1.3"/>
<circle cx="372.13" cy="583.25" r="3.9" fill="#fff" stroke="#22bd22" stroke-width="1.3"/>
<circle cx="373.54" cy="582.78" r="3.9" fill="#fff" stroke="#22bd22" stroke-width="1.3"/>
<circle cx="375.62" cy="581.84" r="3.9" fill="#fff" stroke="#22bd22" stroke-width="1.3"/>
<circle cx="377.54" cy="582.57" r="3.9" fill="#fff" stroke="#22bd22" stroke-width="1.3"/>
<circle cx="378.52" cy="583.66" r="3.9" fill="#fff" stroke="#22bd22" stroke-width="1.3"/>
<circle cx="379.99" cy="584.28" r="3.9" fill="#fff" stroke="#22bd22" stroke-width="1.3"/>
<circle cx="381.70" cy="585.88" r="3.9" fill="#fff" stroke="#22bd22" stroke-width="1.3"/>
<circle cx="382.56" cy="586.58" r="3.9" fill="#fff" stroke="#22bd22" stroke-width="1.3"/>
<circle cx="384.13" cy="587.65" r="3.9" fill="#fff" stroke="#22bd22" stroke-width="1.3"/>
<circle cx="385.33" cy="588.77" r="3.9" fill="#fff" stroke="#22bd22" stroke-width="1.3"/>
<circle cx="387.08" cy="589.49" r="3.9" fill="#fff" stroke="#22bd22" stroke-width="1.3"/>
<circle cx="388.42" cy="591.08" r="3.9" fill="#fff" stroke="#22bd22" stroke-width="1.3"/>
<circle cx="389.54" cy="592.03" r="3.9" fill="#fff" stroke="#22bd22" stroke-width="1.3"/>
<circle cx="391.34" cy="593.33" r="3.9" fill="#fff" stroke="#22bd22" stroke-width="1.3"/>
<circle cx="392.44" cy="594.98" r="3.9" fill="#fff" stroke="#22bd22" stroke-width="1.3"/>
<circle cx="394.65" cy="595.25" r="3.9" fill="#fff" stroke="#22bd22" stroke-width="1.3"/>
<circle cx="396.02" cy="594.68" r="3.9" fill="#fff" stroke="#22bd22" stroke-width="1.3"/>
<circle cx="397.76" cy="595.58" r="3.9" fill="#fff" stroke="#22bd22" stroke-width="1.3"/>
<circle cx="399.62" cy="594.40" r="3.9" fill="#fff" stroke="#22bd22" stroke-width="1.3"/>
<circle cx="401.41" cy="594.76" r="3.9" fill="#fff" stroke="#22bd22" stroke-width="1.3"/>
<circle cx="403.36" cy="593.40" r="3.9" fill="#fff" stroke="#22bd22" stroke-width="1.3"/>
<circle cx="404.66" cy="593.62" r="3.9" fill="#fff" stroke="#22bd22" stroke-width="1.3"/>
<circle cx="406.62" cy="592.78" r="3.9" fill="#fff" stroke="#22bd22" stroke-width="1.3"/>
<circle cx="407.97" cy="591.27" r="3.9" fill="#fff" stroke="#22bd22" stroke-width="1.3"/>
<circle cx="409.94" cy="590.91" r="3.9" fill="#fff" stroke="#22bd22" stroke-width="1.3"/>
<circle cx="411.18" cy="590.73" r="3.9" fill="#fff" stroke="#22bd22" stroke-width="1.3"/>
<circle cx="413.13" cy="589.77" r="3.9" fill="#fff" stroke="#22bd22" stroke-width="1.3"/>
<circle cx="414.42" cy="589.03" r="3.9" fill="#fff" stroke="#22bd22" stroke-width="1.3"/>
<circle cx="416.02" cy="588.24" r="3.9" fill="#fff" stroke="#22bd22" stroke-width="1.3"/>
<circle cx="418.01" cy="587.73" r="3.9" fill="#fff" stroke="#22bd22" stroke-width="1.3"/>
<circle cx="419.85" cy="588.69" r="3.9" fill="#fff" stroke="#22bd22" stroke-width="1.3"/>
<circle cx="421.36" cy="587.14" r="3.9" fill="#fff" stroke="#22bd22" stroke-width="1.3"/>
<circle cx="423.18" cy="586.59" r="3.9" fill="#fff" stroke="#22bd22" stroke-width="1.3"/>
<circle cx="424.59" cy="585.81" r="3.9" fill="#fff" stroke="#22bd22" stroke-width="1.3"/>
<circle cx="426.22" cy="585.18" r="3.9" fill="#fff" stroke="#22bd22" stroke-width="1.3"/>
<circle cx="428.05" cy="584.62" r="3.9" fill="#fff" stroke="#22bd22" stroke-width="1.3"/>
<circle cx="429.90" cy="583.80" r="3.9" fill="#fff" stroke="#22bd22" stroke-width="1.3"/>
<circle cx="431.03" cy="582.40" r="3.9" fill="#fff" stroke="#22bd22" stroke-width="1.3"/>
<circle cx="432.22" cy="580.94" r="3.9" fill="#fff" stroke="#22bd22" stroke-width="1.3"/>
<circle cx="433.44" cy="579.67" r="3.9" fill="#fff" stroke="#22bd22" stroke-width="1.3"/>
<circle cx="435.01" cy="579.05" r="3.9" fill="#fff" stroke="#22bd22" stroke-width="1.3"/>
<circle cx="435.96" cy="577.69" r="3.9" fill="#fff" stroke="#22bd22" stroke-width="1.3"/>
<circle cx="437.69" cy="575.99" r="3.9" fill="#fff" stroke="#22bd22" stroke-width="1.3"/>
<circle cx="438.90" cy="575.11" r="3.9" fill="#fff" stroke="#22bd22" stroke-width="1.3"/>
<circle cx="440.21" cy="574.64" r="3.9" fill="#fff" stroke="#22bd22" stroke-width="1.3"/>
<circle cx="441.75" cy="573.44" r="3.9" fill="#fff" stroke="#22bd22" stroke-width="1.3"/>
<circle cx="443.54" cy="573.19" r="3.9" fill="#fff" stroke="#22bd22" stroke-width="1.3"/>
<circle cx="444.94" cy="572.20" r="3.9" fill="#fff" stroke="#22bd22" stroke-width="1.3"/>
<circle cx="446.76" cy="571.16" r="3.9" fill="#fff" stroke="#22bd22" stroke-width="1.3"/>
<circle cx="448.19" cy="570.00" r="3.9" fill="#fff" stroke="#22bd22" stroke-width="1.3"/>
<circle cx="449.58" cy="568.93" r="3.9" fill="#fff" stroke="#22bd22" stroke-width="1.3"/>
<circle cx="451.20" cy="568.86" r="3.9" fill="#fff" stroke="#22bd22" stroke-width="1.3"/>
<circle cx="452.93" cy="567.36" r="3.9" fill="#fff" stroke="#22bd22" stroke-width="1.3"/>
<circle cx="454.43" cy="567.37" r="3.9" fill="#fff" stroke="#22bd22" stroke-width="1.3"/>
<circle cx="456.51" cy="566.36" r="3.9" fill="#fff" stroke="#22bd22" stroke-width="1.3"/>
<circle cx="457.77" cy="565.04" r="3.9" fill="#fff" stroke="#22bd22" stroke-width="1.3"/>
<circle cx="459.39" cy="564.50" r="3.9" fill="#fff" stroke="#22bd22" stroke-width="1.3"/>
<circle cx="460.86" cy="563.58" r="3.9" fill="#fff" stroke="#22bd22" stroke-width="1.3"/>
<circle cx="462.46" cy="563.26" r="3.9" fill="#fff" stroke="#22bd22" stroke-width="1.3"/>
<circle cx="464.43" cy="561.83" r="3.9" fill="#fff" stroke="#22bd22" stroke-width="1.3"/>
<circle cx="465.53" cy="561.39" r="3.9" fill="#fff" stroke="#22bd22" stroke-width="1.3"/>
<circle cx="467.10" cy="559.72" r="3.9" fill="#fff" stroke="#22bd22" stroke-width="1.3"/>
<circle cx="468.61" cy="559.20" r="3.9" fill="#fff" stroke="#22bd22" stroke-width="1.3"/>
<circle cx="470.65" cy="558.98" r="3.9" fill="#fff" stroke="#22bd22" stroke-width="1.3"/>
<circle cx="472.25" cy="558.61" r="3.9" fill="#fff" stroke="#22bd22" stroke-width="1.3"/>
<circle cx="473.89" cy="557.95" r="3.9" fill="#fff" stroke="#22bd22" stroke-width="1.3"/>
<circle cx="475.71" cy="557.74" r="3.9" fill="#fff" stroke="#22bd22" stroke-width="1.3"/>
<circle cx="477.44" cy="556.92" r="3.9" fill="#fff" stroke="#22bd22" stroke-width="1.3"/>
<circle cx="479.36" cy="556.83" r="3.9" fill="#fff" stroke="#22bd22" stroke-width="1.3"/>
<circle cx="481.31" cy="556.93" r="3.9" fill="#fff" stroke="#22bd22" stroke-width="1.3"/>
<circle cx="483.19" cy="556.83" r="3.9" fill="#fff" stroke="#22bd22" stroke-width="1.3"/>
<circle cx="484.96" cy="556.84" r="3.9" fill="#fff" stroke="#22bd22" stroke-width="1.3"/>
<circle cx="486.54" cy="555.93" r="3.9" fill="#fff" stroke="#22bd22" stroke-width="1.3"/>
<circle cx="488.68" cy="555.46" r="3.9" fill="#fff" stroke="#22bd22" stroke-width="1.3"/>
<circle cx="490.31" cy="555.80" r="3.9" fill="#fff" stroke="#22bd22" stroke-width="1.3"/>
<circle cx="491.68" cy="555.78" r="3.9" fill="#fff" stroke="#22bd22" stroke-width="1.3"/>
<circle cx="492.74" cy="555.45" r="3.9" fill="#fff" stroke="#22bd22" stroke-width="1.3"/>
<circle cx="276.10" cy="695.10" r="3.9" fill="#fff" stroke="#e01414" stroke-width="1.3"/>
<circle cx="277.20" cy="681.10" r="3.9" fill="#fff" stroke="#e01414" stroke-width="1.3"/>
<circle cx="278.60" cy="670.50" r="3.9" fill="#fff" stroke="#e01414" stroke-width="1.3"/>
<circle cx="279.70" cy="664.30" r="3.9" fill="#fff" stroke="#e01414" stroke-width="1.3"/>
<circle cx="281.50" cy="659.80" r="3.9" fill="#fff" stroke="#e01414" stroke-width="1.3"/>
<circle cx="283.30" cy="647.20" r="3.9" fill="#fff" stroke="#e01414" stroke-width="1.3"/>
<circle cx="284.30" cy="643.30" r="3.9" fill="#fff" stroke="#e01414" stroke-width="1.3"/>
<circle cx="285.00" cy="636.00" r="3.9" fill="#fff" stroke="#e01414" stroke-width="1.3"/>
<circle cx="286.50" cy="632.20" r="3.9" fill="#fff" stroke="#e01414" stroke-width="1.3"/>
<circle cx="287.80" cy="629.50" r="3.9" fill="#fff" stroke="#e01414" stroke-width="1.3"/>
<circle cx="288.80" cy="628.60" r="3.9" fill="#fff" stroke="#e01414" stroke-width="1.3"/>
<circle cx="289.80" cy="630.50" r="3.9" fill="#fff" stroke="#e01414" stroke-width="1.3"/>
<circle cx="290.80" cy="632.90" r="3.9" fill="#fff" stroke="#e01414" stroke-width="1.3"/>
<circle cx="292.00" cy="635.00" r="3.9" fill="#fff" stroke="#e01414" stroke-width="1.3"/>
<circle cx="292.90" cy="636.50" r="3.9" fill="#fff" stroke="#e01414" stroke-width="1.3"/>
<circle cx="294.20" cy="637.90" r="3.9" fill="#fff" stroke="#e01414" stroke-width="1.3"/>
<circle cx="295.20" cy="636.50" r="3.9" fill="#fff" stroke="#e01414" stroke-width="1.3"/>
<circle cx="296.30" cy="633.50" r="3.9" fill="#fff" stroke="#e01414" stroke-width="1.3"/>
<circle cx="297.20" cy="631.20" r="3.9" fill="#fff" stroke="#e01414" stroke-width="1.3"/>
<circle cx="298.00" cy="630.00" r="3.9" fill="#fff" stroke="#e01414" stroke-width="1.3"/>
<circle cx="300.00" cy="624.70" r="3.9" fill="#fff" stroke="#e01414" stroke-width="1.3"/>
<circle cx="302.20" cy="642.90" r="3.9" fill="#fff" stroke="#e01414" stroke-width="1.3"/>
<circle cx="304.20" cy="667.20" r="3.9" fill="#fff" stroke="#e01414" stroke-width="1.3"/>
<circle cx="328.30" cy="587.90" r="3.9" fill="#fff" stroke="#e01414" stroke-width="1.3"/>
<circle cx="329.34" cy="581.67" r="3.9" fill="#fff" stroke="#e01414" stroke-width="1.3"/>
<circle cx="330.49" cy="580.78" r="3.9" fill="#fff" stroke="#e01414" stroke-width="1.3"/>
<circle cx="332.21" cy="580.61" r="3.9" fill="#fff" stroke="#e01414" stroke-width="1.3"/>
<circle cx="333.89" cy="580.05" r="3.9" fill="#fff" stroke="#e01414" stroke-width="1.3"/>
<circle cx="335.27" cy="579.58" r="3.9" fill="#fff" stroke="#e01414" stroke-width="1.3"/>
<circle cx="336.88" cy="579.03" r="3.9" fill="#fff" stroke="#e01414" stroke-width="1.3"/>
<circle cx="338.20" cy="578.08" r="3.9" fill="#fff" stroke="#e01414" stroke-width="1.3"/>
<circle cx="339.74" cy="578.31" r="3.9" fill="#fff" stroke="#e01414" stroke-width="1.3"/>
<circle cx="341.31" cy="578.72" r="3.9" fill="#fff" stroke="#e01414" stroke-width="1.3"/>
<circle cx="343.12" cy="578.87" r="3.9" fill="#fff" stroke="#e01414" stroke-width="1.3"/>
<circle cx="344.69" cy="579.39" r="3.9" fill="#fff" stroke="#e01414" stroke-width="1.3"/>
<circle cx="346.14" cy="579.04" r="3.9" fill="#fff" stroke="#e01414" stroke-width="1.3"/>
<circle cx="347.86" cy="580.39" r="3.9" fill="#fff" stroke="#e01414" stroke-width="1.3"/>
<circle cx="349.25" cy="579.83" r="3.9" fill="#fff" stroke="#e01414" stroke-width="1.3"/>
<circle cx="350.91" cy="578.94" r="3.9" fill="#fff" stroke="#e01414" stroke-width="1.3"/>
<circle cx="352.53" cy="578.85" r="3.9" fill="#fff" stroke="#e01414" stroke-width="1.3"/>
<circle cx="353.70" cy="578.71" r="3.9" fill="#fff" stroke="#e01414" stroke-width="1.3"/>
<circle cx="355.64" cy="579.02" r="3.9" fill="#fff" stroke="#e01414" stroke-width="1.3"/>
<circle cx="357.20" cy="580.33" r="3.9" fill="#fff" stroke="#e01414" stroke-width="1.3"/>
<circle cx="358.57" cy="579.84" r="3.9" fill="#fff" stroke="#e01414" stroke-width="1.3"/>
<circle cx="359.88" cy="579.30" r="3.9" fill="#fff" stroke="#e01414" stroke-width="1.3"/>
<circle cx="361.38" cy="578.31" r="3.9" fill="#fff" stroke="#e01414" stroke-width="1.3"/>
<circle cx="362.62" cy="576.76" r="3.9" fill="#fff" stroke="#e01414" stroke-width="1.3"/>
<circle cx="363.65" cy="576.07" r="3.9" fill="#fff" stroke="#e01414" stroke-width="1.3"/>
<circle cx="365.50" cy="575.60" r="3.9" fill="#fff" stroke="#e01414" stroke-width="1.3"/>
<circle cx="366.93" cy="574.79" r="3.9" fill="#fff" stroke="#e01414" stroke-width="1.3"/>
<circle cx="368.16" cy="574.65" r="3.9" fill="#fff" stroke="#e01414" stroke-width="1.3"/>
<circle cx="370.06" cy="574.70" r="3.9" fill="#fff" stroke="#e01414" stroke-width="1.3"/>
<circle cx="371.60" cy="573.77" r="3.9" fill="#fff" stroke="#e01414" stroke-width="1.3"/>
<circle cx="373.04" cy="573.53" r="3.9" fill="#fff" stroke="#e01414" stroke-width="1.3"/>
<circle cx="374.44" cy="572.43" r="3.9" fill="#fff" stroke="#e01414" stroke-width="1.3"/>
<circle cx="376.07" cy="571.70" r="3.9" fill="#fff" stroke="#e01414" stroke-width="1.3"/>
<circle cx="377.49" cy="571.76" r="3.9" fill="#fff" stroke="#e01414" stroke-width="1.3"/>
<circle cx="378.29" cy="570.36" r="3.9" fill="#fff" stroke="#e01414" stroke-width="1.3"/>
<circle cx="380.14" cy="570.15" r="3.9" fill="#fff" stroke="#e01414" stroke-width="1.3"/>
<circle cx="381.29" cy="568.49" r="3.9" fill="#fff" stroke="#e01414" stroke-width="1.3"/>
<circle cx="382.52" cy="568.48" r="3.9" fill="#fff" stroke="#e01414" stroke-width="1.3"/>
<circle cx="383.98" cy="567.40" r="3.9" fill="#fff" stroke="#e01414" stroke-width="1.3"/>
<circle cx="385.43" cy="566.77" r="3.9" fill="#fff" stroke="#e01414" stroke-width="1.3"/>
<circle cx="387.42" cy="565.73" r="3.9" fill="#fff" stroke="#e01414" stroke-width="1.3"/>
<circle cx="388.84" cy="565.62" r="3.9" fill="#fff" stroke="#e01414" stroke-width="1.3"/>
<circle cx="390.37" cy="565.29" r="3.9" fill="#fff" stroke="#e01414" stroke-width="1.3"/>
<circle cx="391.47" cy="565.63" r="3.9" fill="#fff" stroke="#e01414" stroke-width="1.3"/>
<circle cx="393.09" cy="565.20" r="3.9" fill="#fff" stroke="#e01414" stroke-width="1.3"/>
<circle cx="394.28" cy="566.38" r="3.9" fill="#fff" stroke="#e01414" stroke-width="1.3"/>
<circle cx="396.02" cy="566.77" r="3.9" fill="#fff" stroke="#e01414" stroke-width="1.3"/>
<circle cx="397.19" cy="566.37" r="3.9" fill="#fff" stroke="#e01414" stroke-width="1.3"/>
<circle cx="398.61" cy="566.05" r="3.9" fill="#fff" stroke="#e01414" stroke-width="1.3"/>
<circle cx="399.73" cy="565.02" r="3.9" fill="#fff" stroke="#e01414" stroke-width="1.3"/>
<circle cx="401.54" cy="563.54" r="3.9" fill="#fff" stroke="#e01414" stroke-width="1.3"/>
<circle cx="402.94" cy="565.13" r="3.9" fill="#fff" stroke="#e01414" stroke-width="1.3"/>
<circle cx="404.26" cy="565.49" r="3.9" fill="#fff" stroke="#e01414" stroke-width="1.3"/>
<circle cx="405.28" cy="566.49" r="3.9" fill="#fff" stroke="#e01414" stroke-width="1.3"/>
<circle cx="406.99" cy="567.61" r="3.9" fill="#fff" stroke="#e01414" stroke-width="1.3"/>
<circle cx="407.73" cy="568.55" r="3.9" fill="#fff" stroke="#e01414" stroke-width="1.3"/>
<circle cx="408.72" cy="569.30" r="3.9" fill="#fff" stroke="#e01414" stroke-width="1.3"/>
<circle cx="409.67" cy="571.45" r="3.9" fill="#fff" stroke="#e01414" stroke-width="1.3"/>
<circle cx="410.83" cy="572.78" r="3.9" fill="#fff" stroke="#e01414" stroke-width="1.3"/>
<circle cx="411.86" cy="573.18" r="3.9" fill="#fff" stroke="#e01414" stroke-width="1.3"/>
<circle cx="413.06" cy="574.30" r="3.9" fill="#fff" stroke="#e01414" stroke-width="1.3"/>
<circle cx="414.14" cy="576.31" r="3.9" fill="#fff" stroke="#e01414" stroke-width="1.3"/>
<circle cx="415.73" cy="577.09" r="3.9" fill="#fff" stroke="#e01414" stroke-width="1.3"/>
<circle cx="416.87" cy="578.16" r="3.9" fill="#fff" stroke="#e01414" stroke-width="1.3"/>
<circle cx="418.34" cy="578.68" r="3.9" fill="#fff" stroke="#e01414" stroke-width="1.3"/>
<circle cx="419.49" cy="579.03" r="3.9" fill="#fff" stroke="#e01414" stroke-width="1.3"/>
<circle cx="421.07" cy="579.76" r="3.9" fill="#fff" stroke="#e01414" stroke-width="1.3"/>
<circle cx="422.67" cy="580.22" r="3.9" fill="#fff" stroke="#e01414" stroke-width="1.3"/>
<circle cx="423.97" cy="579.73" r="3.9" fill="#fff" stroke="#e01414" stroke-width="1.3"/>
<circle cx="425.94" cy="580.05" r="3.9" fill="#fff" stroke="#e01414" stroke-width="1.3"/>
<circle cx="426.89" cy="579.29" r="3.9" fill="#fff" stroke="#e01414" stroke-width="1.3"/>
<circle cx="428.00" cy="578.72" r="3.9" fill="#fff" stroke="#e01414" stroke-width="1.3"/>
<circle cx="429.63" cy="577.11" r="3.9" fill="#fff" stroke="#e01414" stroke-width="1.3"/>
<circle cx="430.66" cy="576.12" r="3.9" fill="#fff" stroke="#e01414" stroke-width="1.3"/>
<circle cx="431.82" cy="575.20" r="3.9" fill="#fff" stroke="#e01414" stroke-width="1.3"/>
<circle cx="432.76" cy="573.84" r="3.9" fill="#fff" stroke="#e01414" stroke-width="1.3"/>
<circle cx="433.91" cy="573.60" r="3.9" fill="#fff" stroke="#e01414" stroke-width="1.3"/>
<circle cx="435.22" cy="571.64" r="3.9" fill="#fff" stroke="#e01414" stroke-width="1.3"/>
<circle cx="436.60" cy="571.44" r="3.9" fill="#fff" stroke="#e01414" stroke-width="1.3"/>
<circle cx="437.45" cy="569.28" r="3.9" fill="#fff" stroke="#e01414" stroke-width="1.3"/>
<circle cx="438.43" cy="568.09" r="3.9" fill="#fff" stroke="#e01414" stroke-width="1.3"/>
<circle cx="439.82" cy="567.20" r="3.9" fill="#fff" stroke="#e01414" stroke-width="1.3"/>
<circle cx="441.20" cy="566.70" r="3.9" fill="#fff" stroke="#e01414" stroke-width="1.3"/>
<circle cx="442.83" cy="566.74" r="3.9" fill="#fff" stroke="#e01414" stroke-width="1.3"/>
<circle cx="444.37" cy="565.46" r="3.9" fill="#fff" stroke="#e01414" stroke-width="1.3"/>
<circle cx="445.60" cy="564.89" r="3.9" fill="#fff" stroke="#e01414" stroke-width="1.3"/>
<circle cx="447.02" cy="563.95" r="3.9" fill="#fff" stroke="#e01414" stroke-width="1.3"/>
<circle cx="448.26" cy="563.17" r="3.9" fill="#fff" stroke="#e01414" stroke-width="1.3"/>
<circle cx="450.17" cy="562.16" r="3.9" fill="#fff" stroke="#e01414" stroke-width="1.3"/>
<circle cx="451.26" cy="561.93" r="3.9" fill="#fff" stroke="#e01414" stroke-width="1.3"/>
<circle cx="452.84" cy="560.60" r="3.9" fill="#fff" stroke="#e01414" stroke-width="1.3"/>
<circle cx="453.85" cy="559.81" r="3.9" fill="#fff" stroke="#e01414" stroke-width="1.3"/>
<circle cx="455.29" cy="559.21" r="3.9" fill="#fff" stroke="#e01414" stroke-width="1.3"/>
<circle cx="456.99" cy="558.86" r="3.9" fill="#fff" stroke="#e01414" stroke-width="1.3"/>
<circle cx="458.31" cy="557.03" r="3.9" fill="#fff" stroke="#e01414" stroke-width="1.3"/>
<circle cx="459.19" cy="557.05" r="3.9" fill="#fff" stroke="#e01414" stroke-width="1.3"/>
<circle cx="461.09" cy="555.96" r="3.9" fill="#fff" stroke="#e01414" stroke-width="1.3"/>
<circle cx="462.28" cy="554.59" r="3.9" fill="#fff" stroke="#e01414" stroke-width="1.3"/>
<circle cx="462.96" cy="554.49" r="3.9" fill="#fff" stroke="#e01414" stroke-width="1.3"/>
<circle cx="463.45" cy="552.83" r="3.9" fill="#fff" stroke="#e01414" stroke-width="1.3"/>
<circle cx="463.78" cy="550.52" r="3.9" fill="#fff" stroke="#e01414" stroke-width="1.3"/>
<circle cx="463.50" cy="548.82" r="3.9" fill="#fff" stroke="#e01414" stroke-width="1.3"/>
<circle cx="464.12" cy="547.91" r="3.9" fill="#fff" stroke="#e01414" stroke-width="1.3"/>
<circle cx="465.08" cy="546.53" r="3.9" fill="#fff" stroke="#e01414" stroke-width="1.3"/>
<circle cx="465.62" cy="545.15" r="3.9" fill="#fff" stroke="#e01414" stroke-width="1.3"/>
<circle cx="466.73" cy="544.07" r="3.9" fill="#fff" stroke="#e01414" stroke-width="1.3"/>
<circle cx="468.01" cy="543.88" r="3.9" fill="#fff" stroke="#e01414" stroke-width="1.3"/>
<circle cx="469.66" cy="543.58" r="3.9" fill="#fff" stroke="#e01414" stroke-width="1.3"/>
<circle cx="471.44" cy="542.37" r="3.9" fill="#fff" stroke="#e01414" stroke-width="1.3"/>
<circle cx="472.66" cy="541.84" r="3.9" fill="#fff" stroke="#e01414" stroke-width="1.3"/>
<circle cx="474.49" cy="541.91" r="3.9" fill="#fff" stroke="#e01414" stroke-width="1.3"/>
<circle cx="475.69" cy="540.64" r="3.9" fill="#fff" stroke="#e01414" stroke-width="1.3"/>
<circle cx="477.42" cy="540.66" r="3.9" fill="#fff" stroke="#e01414" stroke-width="1.3"/>
<circle cx="478.83" cy="539.63" r="3.9" fill="#fff" stroke="#e01414" stroke-width="1.3"/>
<circle cx="480.44" cy="538.78" r="3.9" fill="#fff" stroke="#e01414" stroke-width="1.3"/>
<circle cx="481.75" cy="538.73" r="3.9" fill="#fff" stroke="#e01414" stroke-width="1.3"/>
<circle cx="483.63" cy="538.35" r="3.9" fill="#fff" stroke="#e01414" stroke-width="1.3"/>
<circle cx="485.06" cy="537.55" r="3.9" fill="#fff" stroke="#e01414" stroke-width="1.3"/>
<circle cx="486.04" cy="536.44" r="3.9" fill="#fff" stroke="#e01414" stroke-width="1.3"/>
<circle cx="487.84" cy="536.16" r="3.9" fill="#fff" stroke="#e01414" stroke-width="1.3"/>
<circle cx="488.82" cy="534.50" r="3.9" fill="#fff" stroke="#e01414" stroke-width="1.3"/>
<circle cx="490.30" cy="534.45" r="3.9" fill="#fff" stroke="#e01414" stroke-width="1.3"/>
<circle cx="491.61" cy="533.12" r="3.9" fill="#fff" stroke="#e01414" stroke-width="1.3"/>
<circle cx="492.60" cy="533.41" r="3.9" fill="#fff" stroke="#e01414" stroke-width="1.3"/>
<rect x="90.30" y="432.50" width="407.70" height="327.40" fill="none" stroke="#000" stroke-width="1.6"/>
<line x1="81.50" y1="754.70" x2="90.30" y2="754.70" stroke="#000" stroke-width="1.6"/>
<line x1="85.40" y1="722.88" x2="90.30" y2="722.88" stroke="#000" stroke-width="1.6"/>
<line x1="85.40" y1="704.27" x2="90.30" y2="704.27" stroke="#000" stroke-width="1.6"/>
<line x1="85.40" y1="691.06" x2="90.30" y2="691.06" stroke="#000" stroke-width="1.6"/>
<line x1="85.40" y1="680.82" x2="90.30" y2="680.82" stroke="#000" stroke-width="1.6"/>
<line x1="85.40" y1="672.45" x2="90.30" y2="672.45" stroke="#000" stroke-width="1.6"/>
<line x1="85.40" y1="665.37" x2="90.30" y2="665.37" stroke="#000" stroke-width="1.6"/>
<line x1="85.40" y1="659.24" x2="90.30" y2="659.24" stroke="#000" stroke-width="1.6"/>
<line x1="85.40" y1="653.84" x2="90.30" y2="653.84" stroke="#000" stroke-width="1.6"/>
<line x1="81.50" y1="649.00" x2="90.30" y2="649.00" stroke="#000" stroke-width="1.6"/>
<line x1="85.40" y1="617.18" x2="90.30" y2="617.18" stroke="#000" stroke-width="1.6"/>
<line x1="85.40" y1="598.57" x2="90.30" y2="598.57" stroke="#000" stroke-width="1.6"/>
<line x1="85.40" y1="585.36" x2="90.30" y2="585.36" stroke="#000" stroke-width="1.6"/>
<line x1="85.40" y1="575.12" x2="90.30" y2="575.12" stroke="#000" stroke-width="1.6"/>
<line x1="85.40" y1="566.75" x2="90.30" y2="566.75" stroke="#000" stroke-width="1.6"/>
<line x1="85.40" y1="559.67" x2="90.30" y2="559.67" stroke="#000" stroke-width="1.6"/>
<line x1="85.40" y1="553.54" x2="90.30" y2="553.54" stroke="#000" stroke-width="1.6"/>
<line x1="85.40" y1="548.14" x2="90.30" y2="548.14" stroke="#000" stroke-width="1.6"/>
<line x1="81.50" y1="543.30" x2="90.30" y2="543.30" stroke="#000" stroke-width="1.6"/>
<line x1="85.40" y1="511.48" x2="90.30" y2="511.48" stroke="#000" stroke-width="1.6"/>
<line x1="85.40" y1="492.87" x2="90.30" y2="492.87" stroke="#000" stroke-width="1.6"/>
<line x1="85.40" y1="479.66" x2="90.30" y2="479.66" stroke="#000" stroke-width="1.6"/>
<line x1="85.40" y1="469.42" x2="90.30" y2="469.42" stroke="#000" stroke-width="1.6"/>
<line x1="85.40" y1="461.05" x2="90.30" y2="461.05" stroke="#000" stroke-width="1.6"/>
<line x1="85.40" y1="453.97" x2="90.30" y2="453.97" stroke="#000" stroke-width="1.6"/>
<line x1="85.40" y1="447.84" x2="90.30" y2="447.84" stroke="#000" stroke-width="1.6"/>
<line x1="85.40" y1="442.44" x2="90.30" y2="442.44" stroke="#000" stroke-width="1.6"/>
<line x1="81.50" y1="437.60" x2="90.30" y2="437.60" stroke="#000" stroke-width="1.6"/>
<line x1="81.50" y1="437.60" x2="90.30" y2="437.60" stroke="#000" stroke-width="1.6"/>
<text transform="translate(72.60,445.70) scale(1,1.07)" font-size="22.15" text-anchor="end" font-weight="normal" >10</text>
<text transform="translate(70.60,551.40) scale(1,1.07)" font-size="22.15" text-anchor="end" font-weight="normal" >1</text>
<text transform="translate(70.60,657.10) scale(1,1.07)" font-size="22.15" text-anchor="end" font-weight="normal" >0.1</text>
<text transform="translate(70.80,762.80) scale(1,1.07)" font-size="22.15" text-anchor="end" font-weight="normal" >0.01</text>
<line x1="96.09" y1="759.90" x2="96.09" y2="764.70" stroke="#000" stroke-width="1.6"/>
<line x1="110.77" y1="759.90" x2="110.77" y2="764.70" stroke="#000" stroke-width="1.6"/>
<line x1="125.45" y1="759.90" x2="125.45" y2="768.60" stroke="#000" stroke-width="1.6"/>
<text transform="translate(125.45,793.20) scale(1,1.07)" font-size="22.15" text-anchor="middle" font-weight="normal" >50</text>
<line x1="140.13" y1="759.90" x2="140.13" y2="764.70" stroke="#000" stroke-width="1.6"/>
<line x1="154.81" y1="759.90" x2="154.81" y2="764.70" stroke="#000" stroke-width="1.6"/>
<line x1="169.50" y1="759.90" x2="169.50" y2="764.70" stroke="#000" stroke-width="1.6"/>
<line x1="184.18" y1="759.90" x2="184.18" y2="764.70" stroke="#000" stroke-width="1.6"/>
<line x1="198.86" y1="759.90" x2="198.86" y2="768.60" stroke="#000" stroke-width="1.6"/>
<text transform="translate(198.86,793.20) scale(1,1.07)" font-size="22.15" text-anchor="middle" font-weight="normal" >100</text>
<line x1="213.54" y1="759.90" x2="213.54" y2="764.70" stroke="#000" stroke-width="1.6"/>
<line x1="228.22" y1="759.90" x2="228.22" y2="764.70" stroke="#000" stroke-width="1.6"/>
<line x1="242.91" y1="759.90" x2="242.91" y2="764.70" stroke="#000" stroke-width="1.6"/>
<line x1="257.59" y1="759.90" x2="257.59" y2="764.70" stroke="#000" stroke-width="1.6"/>
<line x1="272.27" y1="759.90" x2="272.27" y2="768.60" stroke="#000" stroke-width="1.6"/>
<text transform="translate(272.27,793.20) scale(1,1.07)" font-size="22.15" text-anchor="middle" font-weight="normal" >150</text>
<line x1="286.95" y1="759.90" x2="286.95" y2="764.70" stroke="#000" stroke-width="1.6"/>
<line x1="301.63" y1="759.90" x2="301.63" y2="764.70" stroke="#000" stroke-width="1.6"/>
<line x1="316.32" y1="759.90" x2="316.32" y2="764.70" stroke="#000" stroke-width="1.6"/>
<line x1="331.00" y1="759.90" x2="331.00" y2="764.70" stroke="#000" stroke-width="1.6"/>
<line x1="345.68" y1="759.90" x2="345.68" y2="768.60" stroke="#000" stroke-width="1.6"/>
<text transform="translate(345.68,793.20) scale(1,1.07)" font-size="22.15" text-anchor="middle" font-weight="normal" >200</text>
<line x1="360.36" y1="759.90" x2="360.36" y2="764.70" stroke="#000" stroke-width="1.6"/>
<line x1="375.04" y1="759.90" x2="375.04" y2="764.70" stroke="#000" stroke-width="1.6"/>
<line x1="389.73" y1="759.90" x2="389.73" y2="764.70" stroke="#000" stroke-width="1.6"/>
<line x1="404.41" y1="759.90" x2="404.41" y2="764.70" stroke="#000" stroke-width="1.6"/>
<line x1="419.09" y1="759.90" x2="419.09" y2="768.60" stroke="#000" stroke-width="1.6"/>
<text transform="translate(419.09,793.20) scale(1,1.07)" font-size="22.15" text-anchor="middle" font-weight="normal" >250</text>
<line x1="433.77" y1="759.90" x2="433.77" y2="764.70" stroke="#000" stroke-width="1.6"/>
<line x1="448.45" y1="759.90" x2="448.45" y2="764.70" stroke="#000" stroke-width="1.6"/>
<line x1="463.14" y1="759.90" x2="463.14" y2="764.70" stroke="#000" stroke-width="1.6"/>
<line x1="477.82" y1="759.90" x2="477.82" y2="764.70" stroke="#000" stroke-width="1.6"/>
<line x1="492.50" y1="759.90" x2="492.50" y2="768.60" stroke="#000" stroke-width="1.6"/>
<text transform="translate(492.50,793.20) scale(1,1.07)" font-size="22.15" text-anchor="middle" font-weight="normal" >300</text>
<text x="210.20" y="820.90" font-size="22.15" text-anchor="start" font-weight="normal" >Temperature / °C</text>
<text transform="translate(22.9,731.5) rotate(-90)" font-size="22.15">Self-Heating Rate / °C·min<tspan font-size="12" dy="-5">-1</tspan></text>
<text x="95.50" y="454.60" font-size="18.35" text-anchor="start" font-weight="bold" >cell level - pristine</text>
<text x="94.90" y="475.70" font-size="18.3" text-anchor="start" font-weight="normal" >Li||NMC622</text>
<circle cx="115.2" cy="491.60" r="5.7" fill="#fff" stroke="#3f6fe6" stroke-width="1.2"/>
<text x="134.20" y="497.10" font-size="18.0" text-anchor="start" font-weight="normal" >20<tspan dx="1.6"> µm</tspan></text>
<circle cx="115.2" cy="513.00" r="5.7" fill="#fff" stroke="#e01414" stroke-width="1.2"/>
<text x="134.20" y="518.50" font-size="18.0" text-anchor="start" font-weight="normal" >50<tspan dx="1.6"> µm</tspan></text>
<circle cx="115.2" cy="534.40" r="5.7" fill="#fff" stroke="#22bd22" stroke-width="1.2"/>
<text x="134.20" y="539.90" font-size="18.0" text-anchor="start" font-weight="normal" >100<tspan dx="1.6"> µm</tspan></text>
<text transform="translate(1.30,407.60) scale(1,1.07)" font-size="22.0" text-anchor="start" font-weight="bold" >C</text>
<rect x="702.10" y="527.25" width="30.80" height="238.05" fill="#9fb5f9" stroke="#4b73e3" stroke-width="1.1"/>
<rect x="737.70" y="591.65" width="30.50" height="173.65" fill="#9fb5f9" stroke="#4b73e3" stroke-width="1.1"/>
<rect x="838.10" y="519.27" width="30.60" height="246.03" fill="#ff8080" stroke="#d42626" stroke-width="1.1"/>
<rect x="873.70" y="600.12" width="30.60" height="165.18" fill="#ff8080" stroke="#d42626" stroke-width="1.1"/>
<rect x="974.00" y="643.13" width="30.50" height="122.17" fill="#86e286" stroke="#3cc23c" stroke-width="1.1"/>
<rect x="1009.60" y="652.08" width="30.60" height="113.22" fill="#86e286" stroke="#3cc23c" stroke-width="1.1"/>
<rect x="665.40" y="436.70" width="410.50" height="328.60" fill="none" stroke="#000" stroke-width="1.6"/>
<line x1="656.60" y1="764.20" x2="665.40" y2="764.20" stroke="#000" stroke-width="1.6"/>
<text transform="translate(652.40,772.30) scale(1,1.07)" font-size="22.6" text-anchor="end" font-weight="normal" >0.0</text>
<line x1="660.60" y1="709.90" x2="665.40" y2="709.90" stroke="#000" stroke-width="1.6"/>
<line x1="656.60" y1="655.60" x2="665.40" y2="655.60" stroke="#000" stroke-width="1.6"/>
<text transform="translate(652.40,663.70) scale(1,1.07)" font-size="22.6" text-anchor="end" font-weight="normal" >0.2</text>
<line x1="660.60" y1="601.30" x2="665.40" y2="601.30" stroke="#000" stroke-width="1.6"/>
<line x1="656.60" y1="547.00" x2="665.40" y2="547.00" stroke="#000" stroke-width="1.6"/>
<text transform="translate(652.40,555.10) scale(1,1.07)" font-size="22.6" text-anchor="end" font-weight="normal" >0.4</text>
<line x1="660.60" y1="492.70" x2="665.40" y2="492.70" stroke="#000" stroke-width="1.6"/>
<line x1="656.60" y1="438.40" x2="665.40" y2="438.40" stroke="#000" stroke-width="1.6"/>
<text transform="translate(652.40,446.50) scale(1,1.07)" font-size="22.6" text-anchor="end" font-weight="normal" >0.6</text>
<line x1="734.70" y1="765.30" x2="734.70" y2="774.20" stroke="#000" stroke-width="1.6"/>
<text transform="translate(734.70,800.20) scale(1,1.07)" font-size="22.6" text-anchor="middle" font-weight="normal" >20</text>
<line x1="870.60" y1="765.30" x2="870.60" y2="774.20" stroke="#000" stroke-width="1.6"/>
<text transform="translate(870.60,800.20) scale(1,1.07)" font-size="22.6" text-anchor="middle" font-weight="normal" >50</text>
<line x1="1006.30" y1="765.30" x2="1006.30" y2="774.20" stroke="#000" stroke-width="1.6"/>
<text transform="translate(1006.30,800.20) scale(1,1.07)" font-size="22.6" text-anchor="middle" font-weight="normal" >100</text>
<text x="673.00" y="831.70" font-size="22.6" text-anchor="start" font-weight="normal" >Lithium Metal Electrode Thickness / µm</text>
<text transform="translate(607.0,784.1) rotate(-90)" font-size="22.6">Average Self-Heating Rate / °C·min<tspan font-size="12" dy="-10.6">-1</tspan></text>
<text x="671.00" y="458.80" font-size="18.8" text-anchor="start" font-weight="bold" >cell level - pristine</text>
<text x="670.50" y="481.00" font-size="18.8" text-anchor="start" font-weight="normal" >Li||NMC622</text>
<text transform="translate(576.50,407.40) scale(1,1.07)" font-size="22.0" text-anchor="start" font-weight="bold" >D</text>
</svg>
</body></html>
